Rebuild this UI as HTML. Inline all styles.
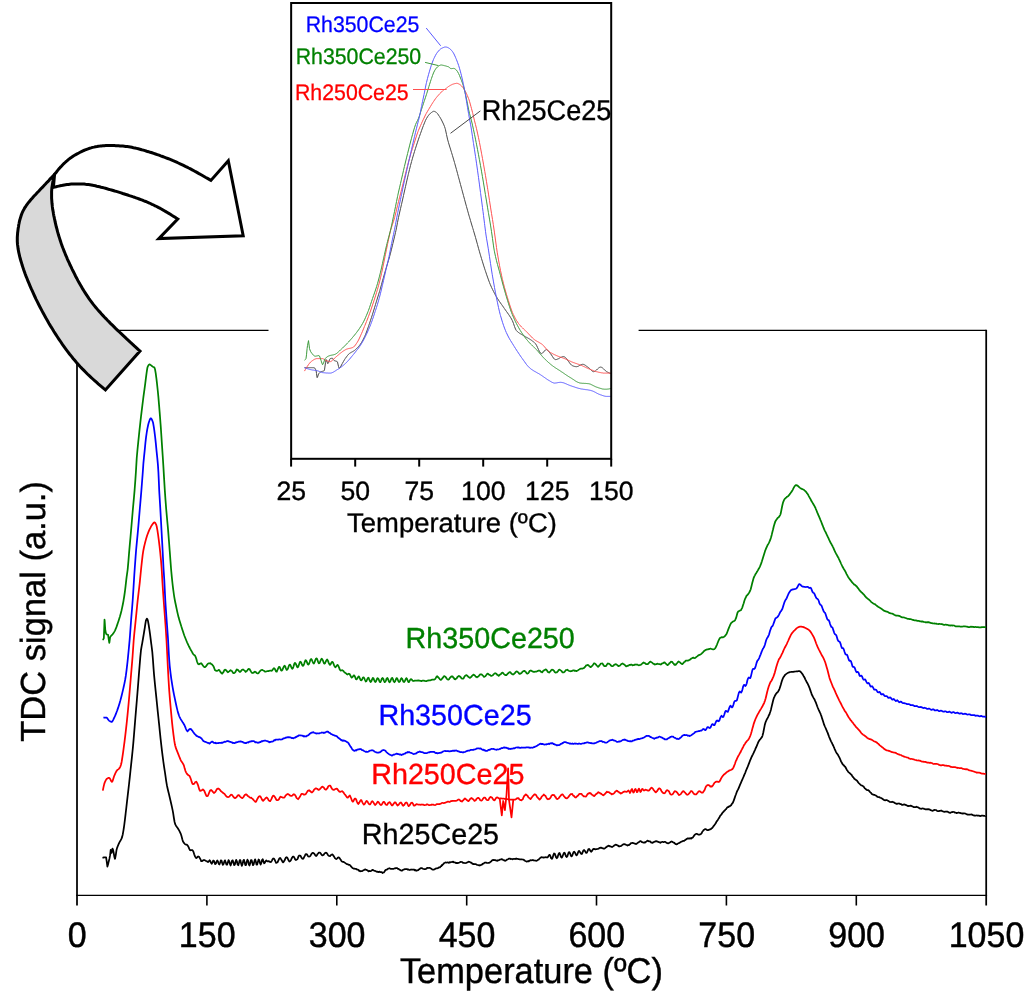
<!DOCTYPE html>
<html lang="en"><head><meta charset="utf-8"><title>TPR profiles</title>
<style>html,body{margin:0;padding:0;background:#fff}body{width:1024px;height:996px;overflow:hidden}svg{display:block;text-rendering:geometricPrecision}text{font-family:"Liberation Sans", Arial, Helvetica, sans-serif;}</style></head><body>
<svg width="1024" height="996" viewBox="0 0 1024 996">
<rect width="1024" height="996" fill="#fff"/>
<g fill="none" stroke="#000" stroke-linecap="butt">
<path d="M77.0,329.72 V905.5 M986.2,329.72 V905.5" stroke-width="1.75"/>
<path d="M76.12,895.4 H987.08" stroke-width="1.35"/>
<path d="M77.0,330.4 H268.5 M638.6,330.4 H986.2" stroke-width="1.35"/>
<path d="M206.9,895.4 V905.5" stroke-width="1.6"/>
<path d="M336.8,895.4 V905.5" stroke-width="1.6"/>
<path d="M466.7,895.4 V905.5" stroke-width="1.6"/>
<path d="M596.5,895.4 V905.5" stroke-width="1.6"/>
<path d="M726.4,895.4 V905.5" stroke-width="1.6"/>
<path d="M856.3,895.4 V905.5" stroke-width="1.6"/>
</g>
<path d="M102.5,857.8 103.2,857.6 103.9,857.4 104.6,857.3 105.3,857.3 106.0,857.3 106.1,857.3 106.7,861.4 107.4,866.6 107.4,866.6 108.1,864.3 108.5,862.4 108.8,861.2 109.5,858.4 110.1,855.2 110.2,854.4 110.7,849.8 110.9,850.2 111.6,852.8 111.6,852.8 112.3,849.1 112.5,848.6 113.0,849.7 113.7,852.8 113.7,852.8 114.4,857.0 114.9,858.8 115.1,858.5 115.8,854.8 116.5,850.1 116.7,849.2 117.2,847.6 117.9,845.8 118.6,844.2 119.1,843.1 119.3,842.7 120.0,841.4 120.7,840.2 121.4,838.9 122.1,837.1 122.1,837.1 122.8,834.2 123.5,830.1 123.9,827.5 124.2,825.4 124.9,819.8 125.6,813.8 125.7,813.0 126.3,807.9 127.0,801.7 127.5,797.3 127.7,795.6 128.4,789.6 129.1,783.5 129.3,781.7 129.8,777.1 130.5,770.5 131.1,764.8 131.2,763.9 131.9,757.3 132.6,750.5 133.0,746.4 133.3,743.1 134.0,734.8 134.7,726.1 135.4,717.5 135.4,717.5 136.1,709.1 136.8,700.8 137.5,692.3 137.8,688.6 138.2,683.5 138.9,674.4 139.6,665.7 139.6,665.7 140.3,657.1 141.0,650.0 141.0,650.0 141.7,645.9 142.2,643.3 142.4,642.1 143.1,638.0 143.8,633.8 144.5,629.5 144.7,628.3 145.2,624.9 145.9,620.7 146.0,620.4 146.6,619.0 146.9,618.7 147.3,619.1 147.8,620.4 148.0,621.1 148.7,625.0 149.2,628.3 149.4,629.6 150.1,634.7 150.8,640.2 151.2,643.3 151.5,645.5 152.2,651.1 152.3,652.0 152.9,659.2 153.6,669.0 154.0,674.1 154.3,677.4 155.0,684.7 155.7,691.4 156.4,698.2 156.4,698.2 157.1,705.0 157.8,711.8 158.5,718.5 158.9,722.3 159.2,725.2 159.9,732.1 160.6,738.8 161.3,745.2 161.3,745.2 162.0,751.1 162.7,756.7 163.4,762.0 163.4,762.0 164.1,766.8 164.8,771.3 164.9,772.0 165.5,776.2 166.2,781.1 166.7,784.1 166.9,785.2 167.6,788.5 168.3,791.5 169.0,794.3 169.7,797.3 169.7,797.3 170.4,800.3 171.1,803.3 171.8,806.4 172.5,809.6 172.7,810.6 173.2,813.4 173.9,818.0 174.6,822.0 175.1,823.9 175.3,824.4 176.0,825.7 176.7,826.7 177.4,827.6 178.1,828.7 178.1,828.7 178.8,829.9 179.5,831.2 180.2,832.6 180.9,834.2 181.1,834.7 181.6,836.4 182.3,839.3 183.0,841.5 183.0,841.5 183.7,842.5 184.2,843.2 184.4,843.5 185.1,844.2 185.8,844.5 186.5,844.5 187.2,845.0 187.9,845.9 188.6,847.2 189.3,848.9 190.0,850.2 190.2,850.3 190.7,850.2 191.4,850.0 192.1,850.0 192.8,850.6 193.5,851.9 194.2,854.2 194.9,856.1 195.0,856.4 195.6,857.4 196.3,858.1 197.0,857.6 197.7,856.7 198.4,856.5 199.1,856.8 199.8,858.1 200.5,859.4 201.0,860.5 201.2,861.1 201.9,861.2 202.6,860.8 203.3,860.1 204.0,860.0 204.7,860.1 205.4,860.7 206.1,861.0 206.8,861.1 207.0,861.3 207.5,861.8 208.2,862.0 208.9,861.2 209.6,860.3 210.3,861.1 211.0,862.8 211.7,863.8 212.4,862.6 213.1,860.7 213.1,860.7 213.8,860.6 214.5,862.4 215.2,864.2 215.9,863.6 216.6,861.5 217.3,860.4 218.0,861.4 218.7,863.8 219.4,864.5 220.1,862.7 220.8,860.4 221.5,860.6 222.2,863.1 222.9,864.8 223.6,864.0 224.3,861.4 225.0,860.3 225.7,862.2 226.4,864.6 227.1,864.7 227.8,862.4 228.5,860.2 229.2,861.0 229.9,863.7 230.0,864.2 230.6,865.5 231.3,863.5 232.0,860.7 232.7,860.3 233.4,862.6 234.1,865.1 234.8,864.8 235.5,861.7 236.2,859.8 236.9,861.3 237.6,864.6 238.3,865.2 239.0,862.8 239.7,860.1 240.4,860.2 241.1,863.4 241.8,865.8 242.5,864.3 243.2,860.8 243.9,859.8 244.6,862.2 245.3,865.1 246.0,865.1 246.7,861.8 247.4,859.7 248.1,860.7 248.8,864.3 249.5,865.5 250.0,864.0 250.2,863.2 250.9,860.1 251.6,860.1 252.3,862.7 253.0,865.2 253.7,864.2 254.4,861.1 255.1,859.4 255.8,861.4 256.5,864.5 257.2,864.5 257.9,861.7 258.6,859.5 259.3,860.2 260.0,863.2 260.7,864.5 261.4,862.7 262.1,859.8 262.8,859.2 263.5,861.7 264.2,863.3 264.9,862.6 265.6,861.1 266.3,860.5 267.0,861.1 267.7,861.3 268.4,861.1 269.1,861.3 269.8,861.7 270.0,862.0 270.5,862.0 271.2,861.8 271.9,860.6 272.6,859.1 273.3,858.5 274.0,858.6 274.7,859.8 275.4,861.4 276.1,862.8 276.8,862.6 277.5,862.3 278.2,860.8 278.9,859.3 279.6,858.1 280.3,858.0 281.0,859.1 281.7,860.2 282.4,861.6 283.1,862.4 283.8,861.6 284.5,860.6 285.2,858.9 285.7,857.9 285.9,857.5 286.6,857.2 287.3,857.7 288.0,859.1 288.7,860.5 289.4,861.5 290.1,861.2 290.8,860.5 291.5,858.7 292.2,857.5 292.9,856.6 293.6,856.7 294.3,857.5 295.0,859.1 295.7,860.0 296.4,859.9 297.1,859.4 297.8,858.4 298.5,856.4 299.2,855.5 299.9,855.6 300.6,855.8 301.3,857.3 301.3,857.2 302.0,858.4 302.7,858.8 303.4,858.6 304.1,857.2 304.8,855.9 305.5,854.4 306.2,854.1 306.9,854.3 307.6,855.5 308.3,856.5 309.0,856.6 309.7,856.5 310.4,855.8 311.1,854.6 311.8,853.6 312.5,852.8 313.2,852.8 313.9,853.4 314.6,854.2 315.3,855.3 316.0,856.0 316.7,855.5 317.0,855.0 317.4,854.2 318.1,853.6 318.8,852.5 319.5,852.5 320.2,852.8 320.9,853.8 321.6,854.8 322.3,855.4 323.0,855.1 323.7,854.8 324.4,853.6 324.8,853.3 325.1,853.0 325.8,852.7 326.5,852.8 327.2,853.7 327.9,855.0 328.6,855.7 329.3,856.0 330.0,856.2 330.7,855.1 331.4,855.0 332.1,854.3 332.8,854.7 333.5,855.9 334.2,856.8 334.9,858.1 335.6,858.7 336.3,859.1 337.0,858.6 337.7,857.9 337.9,857.5 338.4,857.4 339.1,857.6 339.8,858.3 340.5,859.6 341.2,860.6 341.9,861.5 342.6,861.8 343.3,861.9 344.0,862.1 344.7,862.6 345.4,863.1 346.1,863.6 346.8,864.1 347.5,864.2 348.2,864.5 348.3,864.6 348.9,864.8 349.6,864.9 350.3,865.4 351.0,866.4 351.7,867.2 352.4,867.9 353.1,868.3 353.8,868.7 354.5,868.6 355.2,868.8 355.9,868.8 356.6,869.2 357.3,869.7 358.0,869.7 358.7,870.1 358.7,870.6 359.4,870.8 360.1,871.3 360.8,871.2 361.5,871.2 362.2,871.1 362.9,870.6 363.6,870.2 364.3,869.9 365.0,869.3 365.7,869.6 366.4,869.8 367.1,870.2 367.8,870.6 368.5,871.3 369.2,871.2 369.2,870.9 369.9,871.2 370.6,871.1 371.3,870.8 372.0,870.3 372.7,869.8 373.4,870.3 374.1,870.6 374.8,870.8 375.5,871.0 376.2,871.4 376.9,871.9 377.6,871.7 378.3,872.1 379.0,871.9 379.7,871.7 380.4,872.2 381.1,872.1 381.8,872.2 382.2,872.5 382.5,873.0 383.2,872.5 383.9,872.3 384.6,871.5 385.3,870.2 386.0,869.8 386.2,869.9 386.7,869.5 387.4,869.3 388.1,868.6 388.8,868.5 389.5,868.2 390.2,868.6 390.9,868.8 391.6,868.8 392.3,868.8 393.0,868.8 393.7,868.9 394.4,868.4 395.1,868.4 395.8,868.1 396.5,868.0 397.2,868.2 397.9,868.8 398.6,868.9 399.3,869.5 400.0,869.9 400.5,870.0 400.7,870.3 401.4,870.7 402.1,870.6 402.8,870.0 403.5,869.6 404.2,869.5 404.9,869.1 405.6,869.1 406.3,869.2 407.0,869.0 407.7,869.7 408.4,869.4 409.1,869.8 409.8,870.0 410.5,869.7 411.2,869.5 411.9,869.6 412.6,869.7 413.3,869.7 414.0,869.5 414.7,870.3 415.4,870.0 416.1,870.6 416.2,870.8 416.8,870.4 417.5,870.4 418.2,870.2 418.9,869.4 419.6,869.0 420.3,868.4 421.0,868.2 421.7,868.2 422.4,868.4 423.1,868.9 423.8,869.0 424.5,869.2 425.2,869.1 425.9,869.0 426.6,868.3 426.6,868.5 427.3,867.9 428.0,867.9 428.7,868.0 429.4,867.8 430.1,868.0 430.8,868.4 431.5,868.8 432.2,869.5 432.9,869.7 433.6,869.6 434.3,869.5 435.0,869.1 435.7,868.5 436.4,868.3 437.0,868.3 437.1,868.3 437.8,868.2 438.5,867.8 439.2,867.3 439.9,867.4 440.6,866.4 441.3,866.2 442.0,865.0 442.3,865.2 442.7,864.5 443.4,864.1 444.1,863.0 444.8,862.8 445.5,862.4 446.2,862.5 446.9,862.5 447.6,862.4 448.3,862.6 449.0,862.8 449.7,862.2 450.4,862.3 451.1,862.1 451.8,862.0 452.5,861.7 452.7,862.0 453.2,861.7 453.9,862.3 454.6,862.4 455.3,862.5 456.0,863.1 456.7,862.8 457.4,863.2 458.1,862.9 458.8,862.8 459.5,862.5 460.2,862.1 460.9,861.8 461.6,862.0 462.3,862.1 463.0,862.8 463.7,862.8 464.4,863.0 465.1,863.1 465.8,863.0 466.5,862.9 467.2,862.4 467.9,862.1 468.6,861.7 469.3,861.8 470.0,862.0 470.7,862.7 471.4,862.7 472.1,863.5 472.8,864.0 473.5,864.1 473.6,863.9 474.2,864.1 474.9,864.2 475.6,864.2 476.3,864.3 477.0,864.9 477.7,865.0 478.4,865.2 479.0,865.3 479.1,865.1 479.8,865.5 480.5,865.2 481.2,864.8 481.9,864.7 482.6,863.9 483.3,863.7 484.0,863.2 484.7,862.6 485.4,862.5 486.1,862.7 486.8,862.9 487.5,863.0 488.2,862.9 488.9,862.8 489.6,862.7 490.3,862.0 491.0,861.5 491.7,860.9 491.9,860.5 492.4,860.0 493.1,860.1 493.8,859.9 494.5,860.1 495.2,860.1 495.9,860.4 496.6,860.7 497.3,860.8 498.0,860.2 498.7,860.3 499.4,860.0 500.1,859.5 500.8,859.4 501.5,859.2 502.2,859.3 502.9,859.8 503.6,860.0 504.3,860.5 504.9,860.8 505.0,860.5 505.7,860.7 506.4,860.1 507.1,859.5 507.8,859.4 508.5,858.9 509.2,858.6 509.9,858.6 510.6,859.0 511.3,859.0 512.0,858.9 512.7,859.4 513.4,858.9 514.1,859.0 514.8,858.8 515.5,859.0 516.2,858.5 516.9,858.9 517.6,858.9 518.0,858.9 518.3,859.1 519.0,859.2 519.7,859.3 520.4,859.3 521.1,859.3 521.8,859.3 522.5,859.5 523.2,859.6 523.9,859.8 524.6,860.6 525.3,861.0 526.0,861.3 526.7,861.6 527.4,861.5 528.1,861.1 528.8,861.4 529.5,860.7 530.0,860.4 530.2,860.2 530.9,860.3 531.6,860.3 532.3,860.0 533.0,860.3 533.7,860.2 534.4,860.5 535.1,860.6 535.8,860.7 536.5,860.8 537.2,860.4 537.9,859.8 538.6,859.7 539.3,858.8 540.0,858.2 540.7,857.6 541.4,857.2 542.1,857.4 542.8,857.4 543.5,857.6 544.2,857.4 544.9,857.5 545.6,857.2 546.1,857.1 546.3,857.2 547.0,857.5 547.7,857.3 548.4,856.2 549.1,855.1 549.8,854.8 550.5,856.3 551.2,858.4 551.9,858.9 552.6,857.8 553.3,855.2 554.0,853.5 554.7,853.7 555.4,855.4 556.1,857.4 556.8,858.2 557.5,857.4 558.2,855.1 558.9,853.3 559.6,853.0 560.3,854.9 561.0,856.9 561.7,857.6 562.4,856.7 563.1,854.8 563.8,853.1 564.5,852.7 565.2,854.0 565.9,856.2 566.6,857.0 567.3,856.4 568.0,854.3 568.7,852.4 569.4,852.2 570.1,853.5 570.8,855.4 571.5,856.4 572.2,855.6 572.2,855.7 572.9,853.7 573.6,852.1 574.3,851.7 575.0,852.7 575.7,854.2 576.4,855.4 577.1,854.8 577.8,853.2 578.5,851.2 579.2,850.9 579.9,851.9 580.6,853.2 581.3,854.0 582.0,853.8 582.7,852.1 583.4,850.4 584.1,850.0 584.8,850.8 585.5,851.9 586.2,852.9 586.9,852.6 587.6,851.2 588.3,849.3 589.0,848.9 589.7,849.7 590.4,850.9 591.1,851.8 591.8,851.2 592.5,850.0 593.2,849.1 593.9,848.8 594.6,849.2 595.3,849.3 596.0,849.1 596.7,849.2 597.4,849.0 598.1,848.8 598.3,848.5 598.8,848.5 599.5,847.9 600.2,847.9 600.9,847.6 601.6,847.9 602.3,848.2 603.0,848.4 603.7,848.7 604.4,848.7 605.1,848.1 605.8,847.4 606.5,847.1 607.2,846.4 607.9,846.2 608.6,845.7 609.3,845.8 610.0,846.5 610.7,846.3 611.4,846.9 612.1,847.0 612.8,846.6 613.5,846.1 614.2,845.5 614.9,845.1 615.6,844.6 616.3,844.8 617.0,845.1 617.7,845.3 618.4,846.1 619.1,846.5 619.8,846.2 620.5,846.2 621.2,846.0 621.9,845.3 622.6,844.7 623.3,844.5 624.0,844.1 624.4,844.2 624.7,844.3 625.4,844.3 626.1,844.9 626.8,845.0 627.5,845.5 628.2,845.2 628.9,845.1 629.6,844.3 630.3,844.1 631.0,843.0 631.7,843.0 632.4,842.9 633.1,843.1 633.8,843.2 634.5,843.6 635.2,843.7 635.9,844.1 636.6,843.8 637.3,843.2 638.0,842.6 638.7,842.3 639.4,841.6 640.1,841.1 640.8,841.2 641.5,841.9 642.2,842.1 642.9,842.5 643.6,842.7 644.3,842.4 645.0,842.6 645.7,841.9 646.4,841.5 647.1,841.0 647.8,840.6 648.5,841.1 649.2,841.4 649.9,841.3 650.5,841.7 650.6,841.9 651.3,842.7 652.0,842.6 652.7,842.8 653.4,842.2 654.1,841.9 654.8,841.7 655.5,841.4 656.2,841.1 656.9,841.3 657.6,841.7 658.3,841.9 659.0,842.2 659.7,842.4 660.4,842.8 661.1,842.3 661.8,842.0 662.5,841.8 663.2,842.0 663.9,842.0 664.6,841.8 665.3,841.9 666.0,842.4 666.7,843.0 667.4,843.1 668.1,843.3 668.8,843.1 669.5,842.7 670.2,842.3 670.9,841.8 671.6,841.4 672.3,841.8 673.0,842.3 673.7,842.6 674.4,842.9 675.1,843.8 675.8,844.2 676.5,844.3 676.6,844.2 677.2,844.2 677.9,843.5 678.6,843.2 679.3,843.0 680.0,842.5 680.7,842.1 681.4,841.7 682.1,841.5 682.8,841.1 683.5,840.8 684.2,840.8 684.9,840.2 685.6,839.7 686.3,839.2 687.0,838.7 687.7,838.4 688.4,838.6 689.1,838.3 689.7,838.4 689.8,838.7 690.5,838.2 691.2,838.6 691.9,837.9 692.6,837.6 693.3,836.8 694.0,835.9 694.7,834.7 695.4,834.4 696.1,833.9 696.8,833.8 697.5,834.2 698.2,834.6 698.9,834.7 699.6,834.7 700.0,834.5 700.3,834.3 701.0,833.9 701.7,833.1 702.4,831.5 703.1,830.8 703.8,829.9 704.5,829.5 705.2,829.1 705.4,829.1 705.9,829.2 706.6,829.8 707.3,830.1 708.0,830.2 708.7,829.9 709.4,829.7 710.1,829.3 710.8,829.1 711.5,828.3 711.7,828.4 712.2,828.0 712.9,827.1 713.6,826.1 714.3,825.2 715.0,824.3 715.7,823.3 716.4,821.8 717.1,820.9 717.8,819.9 718.1,819.3 718.5,818.8 719.2,817.8 719.9,816.3 720.6,815.3 721.3,814.7 722.0,813.5 722.7,812.5 723.4,811.9 724.1,811.0 724.4,810.5 724.8,810.5 725.5,809.4 726.2,809.0 726.9,807.9 727.6,807.2 728.3,807.2 729.0,806.4 729.7,806.4 730.4,805.7 731.1,805.2 731.8,804.0 732.5,803.1 732.5,803.3 733.2,802.0 733.9,800.1 734.6,798.1 735.3,796.0 736.0,794.2 736.7,792.2 737.0,791.5 737.4,790.7 738.1,789.4 738.8,787.8 739.5,786.1 740.2,784.4 740.9,782.8 741.6,781.2 741.6,781.2 742.3,779.6 743.0,778.0 743.7,776.4 744.4,774.6 745.1,773.1 745.8,771.2 746.5,769.5 747.0,768.3 747.2,768.0 747.9,766.2 748.6,764.4 749.3,762.6 750.0,760.7 750.7,759.1 751.4,757.4 752.1,756.0 752.4,755.3 752.8,754.6 753.5,753.2 754.2,751.6 754.9,750.1 755.6,748.4 756.3,747.0 757.0,745.3 757.7,743.5 757.8,743.4 758.4,741.9 759.1,740.8 759.8,739.7 760.5,739.0 761.2,738.0 761.9,737.1 762.4,736.0 762.6,735.3 763.3,732.5 764.0,728.8 764.7,725.3 765.1,723.7 765.4,722.7 766.1,721.0 766.8,719.4 767.5,718.2 768.2,716.8 768.9,715.2 769.6,714.0 769.6,713.7 770.3,711.7 771.0,709.4 771.7,706.4 772.4,703.5 773.1,700.6 773.8,698.2 774.1,697.4 774.5,696.7 775.2,695.2 775.9,694.0 776.6,693.2 777.3,692.4 778.0,691.9 778.6,690.7 778.7,690.5 779.4,689.1 780.1,686.9 780.8,684.7 781.5,682.3 782.2,680.1 782.9,678.3 783.1,677.9 783.6,677.0 784.3,676.1 785.0,675.0 785.7,674.4 786.4,673.9 787.1,673.4 787.8,672.9 788.5,672.5 788.6,672.5 789.2,672.3 789.9,672.1 790.6,672.0 791.3,671.9 792.0,671.9 792.7,671.8 793.4,671.8 794.0,671.7 794.1,671.7 794.8,671.6 795.5,671.5 796.2,671.4 796.9,671.4 797.6,671.3 798.3,671.2 799.0,671.2 799.4,671.2 799.7,671.2 800.4,671.6 801.1,672.3 801.8,673.2 802.5,674.1 803.2,675.3 803.9,676.6 803.9,676.5 804.6,677.7 805.3,679.3 806.0,680.6 806.7,682.0 807.4,683.2 808.1,684.7 808.8,686.2 809.5,687.8 810.2,689.9 810.9,691.9 811.4,693.2 811.6,694.1 812.3,695.5 813.0,696.9 813.7,698.2 814.4,699.2 815.1,700.9 815.8,702.4 816.5,704.2 817.2,706.2 817.9,708.0 818.6,709.6 819.3,711.1 820.0,712.7 820.5,713.6 820.7,714.3 821.4,716.1 822.1,718.4 822.8,720.5 823.5,722.7 824.2,724.9 824.9,726.5 825.6,728.0 826.3,729.7 826.5,730.1 827.0,731.4 827.7,732.9 828.4,734.9 829.1,736.8 829.8,738.4 830.5,740.2 831.2,741.6 831.9,742.9 832.6,744.5 833.3,745.7 834.0,747.5 834.0,747.3 834.7,749.1 835.4,750.6 836.1,752.1 836.8,753.4 837.5,754.1 838.2,755.3 838.9,756.6 839.6,757.9 840.3,759.5 841.0,761.4 841.7,762.5 842.3,763.7 842.4,763.9 843.1,764.7 843.8,765.2 844.5,766.3 845.2,766.8 845.9,768.0 846.6,769.4 847.3,770.4 848.0,771.5 848.7,772.4 849.4,772.9 850.1,773.5 850.8,774.2 851.5,774.7 852.2,776.0 852.9,776.9 853.0,777.1 853.6,777.6 854.3,778.8 855.0,779.2 855.7,779.7 856.4,780.3 857.1,780.8 857.8,781.9 858.5,782.8 859.2,783.5 859.9,784.2 860.6,784.8 861.3,785.4 862.0,785.5 862.7,785.9 863.4,786.4 864.1,787.3 864.8,788.4 865.5,788.9 865.9,789.1 866.2,789.6 866.9,790.0 867.6,790.0 868.3,790.2 869.0,790.7 869.7,791.6 870.4,792.3 871.1,792.9 871.8,793.9 872.5,794.3 873.2,794.7 873.9,794.8 874.6,794.9 875.3,795.3 876.0,795.6 876.7,796.2 876.7,796.0 877.4,796.8 878.1,797.0 878.8,797.2 879.5,797.2 880.2,797.7 880.9,798.0 881.6,798.2 882.3,798.8 883.0,799.3 883.7,799.8 884.4,800.2 885.1,800.3 885.8,800.1 886.5,800.0 887.2,800.3 887.9,800.7 888.6,801.1 889.3,801.6 890.0,801.9 890.7,802.0 891.4,802.0 892.1,801.7 892.8,802.1 893.5,802.2 893.9,802.4 894.2,802.5 894.9,803.1 895.6,803.3 896.3,803.8 897.0,803.9 897.7,803.5 898.4,803.5 899.1,803.4 899.8,803.9 900.5,804.1 901.2,804.2 901.9,804.8 902.6,804.9 903.3,804.5 904.0,804.7 904.7,804.4 905.4,804.9 906.1,805.1 906.8,805.4 907.5,805.9 908.2,806.1 908.9,805.9 909.6,806.0 910.3,805.7 911.0,805.7 911.7,806.1 912.4,806.4 913.1,806.7 913.2,806.8 913.8,807.1 914.5,807.1 915.2,807.1 915.9,807.1 916.6,806.7 917.3,807.2 918.0,807.3 918.7,807.7 919.4,808.3 920.1,808.6 920.8,808.7 921.5,808.8 922.2,808.4 922.9,808.5 923.6,808.6 924.3,808.9 925.0,809.1 925.7,809.3 926.4,809.3 927.1,809.1 927.8,809.3 928.5,809.2 929.2,809.3 929.9,809.6 930.4,810.1 930.6,810.2 931.3,810.3 932.0,810.6 932.7,810.8 933.4,810.4 934.1,810.1 934.8,809.9 935.5,810.0 936.2,810.2 936.9,810.7 937.6,811.1 938.3,811.2 939.0,811.1 939.7,810.8 940.4,810.8 941.1,810.5 941.8,811.0 942.5,811.1 943.2,811.6 943.9,811.7 944.6,811.8 945.3,811.7 946.0,811.7 946.7,811.5 947.4,811.6 948.1,812.0 948.8,812.5 949.5,812.6 950.2,812.9 950.9,812.5 951.6,812.2 951.9,812.1 952.3,812.2 953.0,811.8 953.7,812.0 954.4,812.2 955.1,812.7 955.8,812.6 956.5,813.1 957.2,812.8 957.9,812.8 958.6,812.5 959.3,812.8 960.0,812.9 960.7,813.1 961.4,813.3 962.1,813.4 962.8,813.7 963.5,813.4 964.2,813.3 964.9,813.5 965.6,813.7 966.3,814.1 967.0,814.3 967.7,814.6 968.4,814.7 969.1,814.6 969.8,814.5 970.5,814.5 971.2,814.4 971.9,814.6 972.6,814.9 973.3,815.3 973.3,815.3 974.0,815.4 974.7,815.7 975.4,815.7 976.1,815.5 976.8,815.4 977.5,815.7 978.2,815.5 978.9,815.6 979.6,816.0 980.3,816.1 981.0,815.8 981.7,815.6 982.4,815.7 983.1,815.7 983.8,815.8 984.5,815.8 985.2,816.0 985.2,815.9" fill="none" stroke="#000000" stroke-width="1.75" stroke-linejoin="round"/>
<path d="M102.8,790.7 103.5,787.1 104.2,784.1 104.6,782.9 104.9,782.2 105.6,780.6 106.3,779.4 107.0,778.7 107.0,778.7 107.7,778.3 108.4,777.9 109.1,777.8 109.2,777.8 109.8,778.3 110.5,779.7 111.2,781.2 111.9,781.9 111.9,781.9 112.6,781.0 113.3,778.8 114.0,776.5 114.3,775.7 114.7,774.8 115.4,773.2 116.1,771.8 116.7,770.8 116.8,770.7 117.5,769.9 118.2,769.4 118.9,768.8 119.6,767.9 119.7,767.8 120.3,766.6 121.0,764.7 121.3,763.6 121.7,761.5 122.1,759.0 122.4,757.1 123.1,752.3 123.8,747.1 123.9,746.4 124.5,741.8 125.2,736.1 125.7,731.9 125.9,730.2 126.6,723.8 127.3,717.1 127.5,715.1 128.0,710.0 128.7,702.5 129.3,695.8 129.4,694.7 130.1,686.3 130.8,677.7 131.1,674.1 131.5,669.4 132.2,661.1 132.6,656.0 132.9,651.8 133.6,641.5 133.7,640.3 134.3,633.7 135.0,626.9 135.7,620.2 135.7,620.2 136.4,613.1 137.1,606.0 137.7,600.2 137.8,599.3 138.5,593.3 139.2,587.5 139.7,583.1 139.9,581.2 140.6,574.0 141.3,567.0 141.3,567.0 142.0,560.6 142.7,554.7 143.2,551.3 143.4,550.2 144.1,546.8 144.8,543.9 145.2,542.3 145.5,541.1 146.2,538.5 146.9,536.2 147.2,535.3 147.6,534.2 148.3,532.4 149.0,530.7 149.7,529.2 149.7,529.2 150.4,527.8 151.1,526.4 151.8,525.3 152.2,524.7 152.5,524.3 153.2,523.4 153.9,522.6 154.5,522.4 154.6,522.4 155.3,523.0 156.0,524.3 156.2,524.7 156.7,526.5 157.4,530.2 157.4,530.2 158.1,534.8 158.7,539.3 158.8,540.1 159.5,545.8 160.0,550.3 160.2,552.2 160.9,559.3 161.0,560.4 161.6,568.0 161.8,571.0 162.3,580.1 162.3,580.1 163.0,590.9 163.7,600.8 163.8,602.2 164.4,610.2 165.1,619.4 165.3,622.2 165.8,629.3 166.5,640.3 166.5,640.3 167.2,654.0 167.2,654.0 167.9,668.1 167.9,668.1 168.6,680.7 169.1,688.6 169.3,691.4 170.0,700.1 170.7,708.0 170.9,710.2 171.4,715.6 172.1,722.8 172.7,728.3 172.8,729.1 173.5,734.9 174.2,740.2 174.9,744.3 175.1,745.2 175.6,747.1 176.3,749.2 177.0,750.9 177.7,752.6 178.1,753.6 178.4,754.4 179.1,756.2 179.8,757.9 180.5,759.6 181.1,760.8 181.2,761.0 181.9,762.1 182.6,763.1 183.3,764.2 183.6,764.8 184.0,765.9 184.7,768.6 185.4,770.8 185.4,770.8 186.1,772.3 186.8,773.6 187.5,774.5 188.2,775.0 188.4,775.3 188.9,775.5 189.6,776.0 190.3,777.7 191.0,779.5 191.7,781.9 192.4,783.8 192.6,783.8 193.1,784.2 193.8,783.9 194.5,783.5 195.2,782.0 195.9,781.9 196.2,781.7 196.6,782.1 197.3,783.4 198.0,785.1 198.7,787.4 199.4,789.8 199.8,790.2 200.1,790.9 200.8,790.7 201.5,790.4 202.2,790.0 202.9,789.4 203.4,789.8 203.6,790.0 204.3,790.9 205.0,792.6 205.7,794.3 206.4,795.9 207.1,796.2 207.7,796.0 207.8,795.9 208.5,794.4 209.2,792.5 209.9,790.9 210.6,790.1 211.3,790.0 211.9,790.8 212.0,790.7 212.7,791.6 213.4,792.4 214.1,793.0 214.8,792.2 215.0,792.3 215.5,791.7 216.2,790.3 216.9,789.0 217.6,788.7 218.3,788.5 218.6,788.9 219.0,788.8 219.7,789.5 220.4,790.5 221.1,791.3 221.8,791.8 222.5,792.4 223.2,793.1 223.9,793.5 224.6,793.9 225.3,795.0 226.0,795.9 226.7,796.6 227.4,796.9 228.1,797.1 228.8,797.0 229.5,796.3 230.2,795.5 230.6,795.1 230.9,794.7 231.6,794.9 232.3,795.1 233.0,796.2 233.7,797.2 234.4,797.9 235.1,798.1 235.8,797.8 236.5,797.2 237.2,796.1 237.9,795.4 238.6,795.1 239.3,795.5 240.0,796.5 240.7,797.2 241.4,797.6 242.1,798.2 242.8,797.7 243.5,797.0 244.2,795.8 244.9,794.9 245.6,794.7 245.7,794.3 246.3,794.4 247.0,795.0 247.7,795.9 248.4,796.2 249.1,796.9 249.8,797.5 250.5,797.8 251.2,797.7 251.9,798.4 252.6,798.9 253.3,799.7 254.0,800.5 254.7,801.2 255.4,801.9 256.1,801.6 256.8,800.1 257.5,798.7 258.2,797.5 258.9,796.5 259.6,796.2 260.3,796.4 260.7,797.0 261.0,797.5 261.7,799.0 262.4,800.2 263.1,800.9 263.8,800.1 264.5,799.3 265.2,798.7 265.9,797.9 266.6,797.4 267.3,797.9 268.0,798.9 268.7,800.3 269.4,800.9 270.0,801.0 270.1,801.2 270.8,800.1 271.5,798.9 272.2,797.1 272.9,795.8 273.6,795.7 274.3,796.2 275.0,797.2 275.7,798.5 276.4,799.9 277.1,800.2 277.8,800.1 278.5,799.8 279.2,798.9 279.9,797.4 280.6,796.7 281.3,797.1 282.0,797.1 282.7,797.6 283.1,797.7 283.4,797.6 284.1,797.7 284.8,797.0 285.5,795.7 286.2,795.0 286.9,794.4 287.6,794.0 288.3,794.1 289.0,794.6 289.7,795.4 290.4,795.6 291.1,795.9 291.8,795.8 292.5,795.4 293.2,794.6 293.9,794.2 294.6,794.5 295.3,795.5 296.0,796.5 296.1,797.0 296.7,798.1 297.4,798.6 298.1,799.2 298.8,798.3 299.5,797.3 300.2,796.2 300.9,794.8 301.6,793.9 302.3,793.9 303.0,794.0 303.7,794.6 304.4,794.6 305.1,794.4 305.8,794.0 306.5,792.9 307.2,791.8 307.9,790.6 308.6,790.7 309.2,790.2 309.3,790.8 310.0,790.9 310.7,791.5 311.4,792.3 312.1,792.3 312.8,791.6 313.5,790.8 314.2,789.4 314.9,789.0 315.6,788.4 316.3,788.3 317.0,788.9 317.7,789.1 318.4,789.9 319.1,789.8 319.6,789.2 319.8,789.1 320.5,788.3 321.2,787.6 321.9,786.8 322.6,786.7 323.3,787.3 324.0,787.8 324.7,789.1 325.4,789.5 326.1,789.5 326.8,788.9 327.4,787.8 327.5,788.1 328.2,786.4 328.9,785.8 329.6,785.7 330.3,785.7 331.0,787.0 331.7,788.3 332.4,789.4 333.1,789.6 333.8,789.8 334.5,789.7 335.2,789.0 335.9,788.8 336.6,788.7 337.3,788.9 337.9,789.8 338.0,790.2 338.7,790.9 339.4,791.7 340.1,791.9 340.8,791.5 341.5,791.4 342.2,791.2 342.9,791.8 343.6,792.6 344.3,793.8 345.0,794.7 345.7,795.4 346.4,796.4 347.1,797.4 347.8,797.6 348.3,797.0 348.5,797.1 349.2,796.0 349.9,795.5 350.6,797.0 351.3,798.8 352.0,800.8 352.7,801.7 353.4,801.2 354.1,799.6 354.8,798.5 355.5,798.5 356.2,799.6 356.9,801.6 357.6,803.1 358.3,804.0 359.0,803.2 359.7,801.8 360.4,800.6 361.1,800.0 361.4,800.3 361.8,801.0 362.5,802.6 363.2,803.7 363.9,804.6 364.6,804.1 365.3,802.8 366.0,801.7 366.7,800.9 367.4,801.4 368.1,802.7 368.8,803.8 369.5,804.4 370.2,804.3 370.9,803.1 371.6,801.7 372.3,801.2 373.0,801.8 373.7,802.9 374.4,804.1 375.1,805.0 375.8,804.3 376.5,803.7 377.2,802.4 377.9,801.6 378.6,802.1 379.3,803.3 380.0,804.3 380.7,805.0 381.4,804.8 382.1,804.0 382.8,802.8 383.5,801.8 384.2,801.9 384.9,803.0 385.6,804.3 386.3,804.9 387.0,804.9 387.5,804.6 387.7,803.8 388.4,802.8 389.1,802.4 389.8,802.2 390.5,803.2 391.2,804.5 391.9,805.4 392.6,805.3 393.3,804.1 394.0,803.4 394.7,802.3 395.4,802.3 396.1,803.3 396.8,804.6 397.5,805.6 398.2,805.1 398.9,804.3 399.6,803.4 400.3,802.7 401.0,802.5 401.7,803.3 402.4,804.9 403.1,805.8 403.8,805.3 404.5,804.6 405.2,803.2 405.9,802.6 406.6,802.5 407.3,803.5 408.0,805.1 408.7,806.2 409.4,805.5 410.1,804.6 410.8,803.3 411.5,802.8 412.2,802.6 412.9,803.7 413.6,805.2 413.6,805.4 414.3,805.7 415.0,805.4 415.7,804.7 416.4,804.2 417.1,804.2 417.8,804.5 418.5,804.6 419.2,804.7 419.9,804.7 420.6,804.8 421.3,804.5 422.0,804.6 422.7,804.5 423.4,804.6 424.1,805.2 424.8,805.1 425.5,805.0 426.2,804.8 426.9,804.3 427.6,804.4 428.3,804.8 429.0,805.1 429.7,805.2 430.4,805.0 431.1,804.7 431.8,804.8 431.8,804.6 432.5,804.6 433.2,804.7 433.9,804.9 434.6,805.0 435.3,805.0 436.0,804.7 436.7,804.0 437.4,804.0 438.1,804.1 438.8,804.2 439.5,804.1 440.2,803.8 440.9,803.7 441.6,803.0 442.3,802.9 443.0,803.0 443.7,803.1 444.4,802.9 445.1,802.8 445.8,802.5 446.5,802.0 447.2,801.9 447.9,801.7 448.6,801.7 449.3,802.0 450.0,801.7 450.7,801.2 451.4,801.1 452.1,800.9 452.7,800.9 452.8,801.0 453.5,800.9 454.2,800.9 454.9,800.8 455.6,800.8 456.3,800.8 457.0,800.5 457.7,799.9 458.4,799.5 459.1,799.6 459.8,800.0 460.5,801.1 461.2,801.2 461.9,801.6 462.6,800.7 463.3,800.2 464.0,799.4 464.7,798.5 465.4,798.7 466.1,799.4 466.8,800.0 467.5,800.5 468.2,801.2 468.9,800.7 469.6,799.7 470.3,798.7 471.0,798.3 471.7,798.0 472.4,798.8 473.1,799.2 473.8,800.0 474.5,800.9 475.2,800.5 475.9,800.0 476.6,798.8 477.3,798.2 478.0,797.9 478.7,797.8 478.8,798.0 479.4,798.7 480.1,800.1 480.8,800.5 481.5,800.7 482.2,800.1 482.9,798.9 483.6,798.0 484.3,797.5 485.0,797.5 485.7,798.5 486.4,799.6 487.1,800.1 487.8,800.2 488.5,799.9 489.2,798.4 489.9,797.5 490.6,796.9 491.3,797.2 492.0,797.5 492.7,798.8 493.4,799.8 494.1,800.3 494.8,800.1 495.5,798.8 496.2,797.9 496.9,797.3 497.6,797.6 498.3,798.0 499.0,798.4 499.7,798.5 499.7,798.5 500.4,798.4 501.1,798.4 501.8,798.5 502.5,798.5 503.2,798.6 503.9,798.7 504.6,798.8 505.3,798.9 506.0,799.0 506.7,799.1 507.4,799.2 508.1,799.3 508.8,799.4 509.5,799.5 510.2,799.5 510.9,799.6 511.6,799.6 512.3,799.7 513.0,799.7 513.3,799.7 513.7,799.7 514.4,799.7 515.1,799.6 515.8,799.3 516.5,798.6 517.2,798.2 517.9,798.3 518.6,798.1 519.3,799.4 520.0,799.9 520.7,800.2 521.4,800.3 522.1,799.7 522.8,799.3 523.5,797.3 524.2,796.0 524.9,795.4 525.6,794.4 526.3,794.5 527.0,795.4 527.7,796.0 528.4,797.3 529.1,797.9 529.8,798.4 530.0,798.5 530.5,799.1 531.2,798.2 531.9,797.3 532.6,796.3 533.3,795.5 534.0,794.8 534.7,794.3 535.4,794.5 536.1,795.1 536.8,796.4 537.5,797.4 538.2,798.1 538.9,798.9 539.6,799.6 540.3,798.8 541.0,798.1 541.7,796.7 542.4,796.0 543.1,795.3 543.8,794.5 544.5,795.3 545.2,795.5 545.9,796.5 546.1,797.1 546.6,798.0 547.3,798.9 548.0,799.3 548.7,798.9 549.4,798.9 550.1,798.1 550.8,797.2 551.5,795.7 552.2,795.1 552.9,794.9 553.6,795.1 554.3,795.2 555.0,796.7 555.7,797.1 556.4,798.6 557.1,799.1 557.8,798.9 558.5,798.4 559.2,797.4 559.9,796.4 560.6,795.8 561.3,794.9 562.0,794.4 562.7,794.4 563.4,795.5 564.1,796.3 564.8,797.2 565.5,798.0 566.2,798.0 566.9,798.4 567.6,797.8 568.3,797.2 569.0,796.1 569.7,795.2 570.4,794.5 571.1,794.0 571.8,794.2 572.2,794.0 572.5,794.5 573.2,795.6 573.9,795.9 574.6,796.8 575.3,797.5 576.0,797.4 576.7,796.6 577.4,796.0 578.1,795.5 578.8,794.5 579.5,793.9 580.2,793.8 580.9,793.9 581.6,793.9 582.3,795.1 583.0,795.6 583.7,796.3 584.4,796.3 585.1,796.5 585.8,796.6 586.5,795.9 587.2,794.6 587.9,793.7 588.6,793.6 589.3,792.9 590.0,793.4 590.7,793.1 591.4,794.2 592.1,794.7 592.8,795.1 593.5,795.8 594.2,796.1 594.9,795.4 595.6,794.5 596.3,794.1 597.0,793.5 597.7,792.8 598.3,792.2 598.4,792.6 599.1,792.7 599.8,792.8 600.5,793.7 601.2,793.7 601.9,794.4 602.6,794.9 603.3,795.3 604.0,794.8 604.7,794.1 605.4,793.5 606.1,792.7 606.8,791.6 607.5,792.1 608.2,792.0 608.9,792.0 609.6,792.8 610.3,793.3 611.0,793.5 611.7,794.4 612.4,794.0 613.1,793.9 613.8,793.5 614.5,792.8 615.2,791.8 615.9,791.3 616.6,790.7 617.3,790.8 618.0,791.7 618.7,791.8 619.4,792.7 620.1,792.9 620.8,793.6 621.5,793.0 622.2,792.9 622.9,792.2 623.6,791.9 624.3,791.5 624.4,791.7 625.0,791.5 625.7,791.6 626.4,791.8 627.1,791.7 627.8,791.0 628.5,790.5 629.2,791.5 629.9,793.0 630.6,791.8 631.3,789.9 632.0,789.0 632.7,791.3 633.4,792.6 634.1,791.8 634.8,789.4 635.5,789.0 636.2,790.4 636.9,792.2 637.6,791.8 638.3,789.5 639.0,788.7 639.7,790.2 640.4,792.0 641.1,791.3 641.8,789.3 642.5,788.9 643.2,789.8 643.9,790.5 644.6,790.3 645.3,789.7 646.0,789.8 646.7,790.0 647.4,790.4 648.1,790.6 648.8,790.6 649.5,790.0 650.2,789.2 650.5,788.6 650.9,788.2 651.6,787.6 652.3,788.2 653.0,788.8 653.7,790.2 654.4,790.8 655.1,791.8 655.8,792.4 656.5,791.6 657.2,791.0 657.9,789.8 658.6,788.7 659.3,788.3 660.0,788.7 660.7,789.5 661.4,790.9 662.1,791.9 662.8,792.8 663.5,793.2 664.2,793.3 664.9,792.9 665.6,791.9 666.3,790.8 667.0,790.2 667.7,790.3 668.4,790.9 669.1,791.5 669.8,793.3 670.5,794.3 671.2,794.6 671.9,794.6 672.6,794.2 673.3,793.2 674.0,792.1 674.7,791.2 675.4,791.3 676.1,791.6 676.6,792.0 676.8,792.0 677.5,793.1 678.2,794.0 678.9,795.1 679.6,794.8 680.3,794.5 681.0,793.8 681.7,792.8 682.4,791.8 683.1,791.1 683.8,791.3 684.5,792.1 685.2,792.7 685.9,793.7 686.6,794.4 687.3,794.8 688.0,794.5 688.7,793.9 689.4,793.2 690.1,792.3 690.8,791.2 691.5,791.1 692.2,791.5 692.9,792.5 693.6,793.4 694.3,794.2 695.0,794.4 695.7,794.4 696.4,794.3 697.1,793.3 697.8,792.5 698.5,791.4 699.2,791.3 699.9,791.2 700.0,791.4 700.6,791.8 701.3,792.5 702.0,792.5 702.7,792.6 703.4,791.7 704.1,790.8 704.8,789.5 705.5,787.5 706.2,786.2 706.9,785.6 707.2,785.2 707.6,785.1 708.3,785.0 709.0,785.3 709.7,785.8 710.4,786.7 711.1,786.4 711.8,786.6 712.5,785.9 713.2,784.9 713.6,784.2 713.9,783.7 714.6,782.6 715.3,782.2 716.0,781.7 716.7,781.7 717.4,781.6 718.1,781.8 718.8,782.0 719.0,781.6 719.5,781.5 720.2,780.3 720.9,778.8 721.6,777.6 722.3,776.5 723.0,775.7 723.7,774.8 724.4,774.3 725.1,773.6 725.8,773.0 726.2,772.7 726.5,772.4 727.2,771.8 727.9,771.4 728.6,771.1 729.3,770.4 730.0,770.3 730.7,770.0 731.4,769.7 732.1,769.2 732.5,769.1 732.8,768.4 733.5,767.4 734.2,765.7 734.9,764.0 735.6,761.8 736.1,760.5 736.3,760.4 737.0,758.6 737.7,757.2 738.4,755.8 739.1,754.6 739.8,753.3 740.5,752.3 741.2,750.7 741.9,749.4 742.6,748.0 743.3,746.6 744.0,745.1 744.7,744.2 745.2,743.4 745.4,743.0 746.1,742.1 746.8,741.2 747.5,740.5 748.2,739.8 748.9,738.7 749.6,737.4 749.7,737.2 750.3,735.7 751.0,733.7 751.7,731.3 752.4,728.6 753.1,726.2 753.8,723.6 754.5,721.6 755.2,719.8 755.9,718.0 756.0,717.9 756.6,716.6 757.3,715.2 758.0,713.9 758.7,712.7 759.4,711.4 760.1,710.2 760.8,709.1 761.5,707.9 762.2,706.8 762.9,705.4 763.6,704.0 764.2,702.8 764.3,702.4 765.0,700.6 765.7,698.2 766.4,695.3 767.1,692.3 767.8,689.6 768.5,687.2 768.7,686.5 769.2,685.2 769.9,683.4 770.6,681.9 771.3,681.0 772.0,679.8 772.7,678.2 773.4,676.6 774.1,674.8 774.1,674.6 774.8,672.6 775.5,670.1 776.2,667.3 776.9,664.9 777.6,662.7 778.3,660.9 778.6,660.0 779.0,659.1 779.7,658.2 780.3,657.2 780.4,657.0 781.1,655.6 781.8,654.1 782.5,652.9 783.2,651.2 783.9,649.5 784.6,648.0 785.3,646.8 786.0,645.3 786.3,644.9 786.7,644.1 787.4,642.5 788.1,641.0 788.8,639.4 789.5,637.8 790.2,636.3 790.9,634.9 791.6,633.8 792.3,632.8 792.4,632.7 793.0,632.0 793.7,631.2 794.4,630.5 795.1,629.8 795.8,629.1 796.5,628.4 797.2,627.9 797.9,627.4 798.6,627.0 799.3,626.8 800.0,626.6 800.4,626.6 800.7,626.6 801.4,626.7 802.1,626.8 802.8,626.9 803.5,627.1 804.2,627.4 804.9,627.7 805.6,628.0 806.3,628.4 807.0,628.8 807.7,629.2 808.4,629.6 808.4,629.6 809.1,630.1 809.8,630.9 810.5,631.7 811.2,632.8 811.9,633.9 812.6,635.1 813.3,636.3 813.5,636.7 814.0,637.7 814.7,639.4 815.4,641.2 816.1,643.2 816.8,645.0 817.5,646.7 817.5,646.7 818.2,648.2 818.9,649.6 819.6,650.9 820.3,652.3 820.5,652.7 821.0,653.7 821.7,655.0 822.4,656.2 823.1,657.4 823.8,658.8 824.5,660.5 824.5,660.5 825.2,662.3 825.9,664.5 826.6,666.9 827.3,669.3 827.5,670.0 828.0,672.0 828.7,674.8 829.4,677.4 829.5,678.0 830.1,679.6 830.8,681.5 831.5,683.3 832.2,685.0 832.9,686.9 833.6,688.2 834.3,689.7 835.0,691.2 835.7,692.9 836.4,694.4 837.1,696.0 837.8,697.3 838.5,698.8 838.6,699.0 839.2,700.3 839.9,701.7 840.6,703.0 841.3,704.4 842.0,705.9 842.7,707.2 843.4,708.4 844.1,709.6 844.8,711.0 845.5,711.8 846.2,712.9 846.9,714.1 847.6,715.5 847.6,715.3 848.3,716.7 849.0,717.8 849.7,718.7 850.4,719.8 851.1,720.6 851.8,721.6 852.5,722.3 853.2,723.2 853.9,724.2 854.6,725.1 855.3,726.1 856.0,727.1 856.6,727.5 856.7,727.6 857.4,728.3 858.1,729.2 858.8,729.9 859.5,730.6 860.2,731.5 860.9,732.5 861.6,733.3 862.3,734.0 863.0,734.6 863.7,735.1 864.4,735.5 865.1,736.1 865.8,736.5 865.9,736.8 866.5,737.1 867.2,737.9 867.9,738.4 868.6,738.6 869.3,739.0 870.0,739.0 870.7,739.4 871.4,739.6 872.1,740.0 872.8,740.4 873.5,740.9 874.2,741.3 874.9,741.5 875.6,742.0 876.3,742.2 876.7,742.6 877.0,742.7 877.7,743.4 878.4,743.8 879.1,744.7 879.8,745.4 880.5,745.9 881.2,746.3 881.9,747.0 882.6,747.6 883.3,748.0 884.0,748.8 884.7,749.2 885.3,749.6 885.4,749.8 886.1,750.0 886.8,750.4 887.5,750.5 888.2,750.8 888.9,750.7 889.6,751.1 890.3,751.3 891.0,751.7 891.7,752.1 892.4,752.2 893.1,752.3 893.8,752.5 894.5,752.5 895.2,752.7 895.9,753.0 896.0,753.0 896.6,753.5 897.3,753.8 898.0,754.1 898.7,754.3 899.4,754.7 900.1,754.9 900.8,755.0 901.5,755.3 902.2,755.9 902.9,756.0 903.6,756.4 904.3,756.7 905.0,756.9 905.7,757.0 906.4,757.3 907.1,757.5 907.8,757.6 908.5,758.0 908.9,758.4 909.2,758.5 909.9,758.7 910.6,759.0 911.3,758.9 912.0,759.0 912.7,759.1 913.4,759.3 914.1,759.5 914.8,759.8 915.5,760.0 916.2,760.2 916.9,760.4 917.6,760.5 918.3,760.3 919.0,760.6 919.7,760.6 920.4,760.9 921.1,761.2 921.8,761.6 922.5,761.7 923.2,761.6 923.9,761.8 924.6,761.8 925.3,761.9 926.0,762.1 926.7,762.3 927.4,762.7 928.1,762.7 928.8,762.7 929.5,762.9 930.2,762.8 930.4,762.7 930.9,762.8 931.6,763.0 932.3,763.3 933.0,763.7 933.7,764.0 934.4,763.9 935.1,763.8 935.8,763.9 936.5,763.8 937.2,764.0 937.9,764.1 938.6,764.6 939.3,764.9 940.0,765.1 940.7,765.3 941.4,765.3 942.1,765.1 942.8,765.0 943.5,765.2 944.2,765.4 944.9,765.6 945.6,765.7 946.3,765.7 947.0,765.9 947.7,765.8 948.4,765.9 949.1,766.0 949.8,766.3 950.5,766.8 951.2,766.9 951.9,767.0 951.9,767.1 952.6,767.1 953.3,767.0 954.0,767.1 954.7,767.1 955.4,767.2 956.1,767.5 956.8,767.5 957.5,768.0 958.2,767.9 958.9,768.0 959.6,768.1 960.3,768.2 961.0,768.1 961.7,768.2 962.4,768.6 963.1,768.8 963.8,769.0 964.5,769.1 964.7,769.2 965.2,769.1 965.9,769.3 966.6,769.2 967.3,769.4 968.0,769.6 968.7,770.1 969.4,770.4 970.1,770.5 970.8,770.6 971.5,770.8 972.2,771.0 972.9,771.2 973.6,771.5 974.3,771.7 975.0,772.0 975.7,772.1 976.4,772.6 977.1,772.4 977.6,772.7 977.8,772.6 978.5,772.6 979.2,772.7 979.9,772.8 980.6,773.1 981.3,773.5 982.0,773.7 982.7,773.7 983.4,773.7 984.1,773.8 984.8,773.9 985.5,774.0 985.8,774.1" fill="none" stroke="#ff0000" stroke-width="1.75" stroke-linejoin="round"/>
<path d="M103.4,717.7 104.1,717.6 104.8,717.5 105.5,717.5 106.2,717.5 106.4,717.5 106.9,717.8 107.6,718.7 108.3,719.8 108.9,720.5 109.0,720.6 109.7,721.1 110.4,721.5 111.1,721.8 111.6,721.9 111.8,721.9 112.5,721.1 113.2,719.8 113.9,718.3 114.3,717.5 114.6,716.9 115.3,715.4 116.0,713.7 116.7,711.8 117.3,710.2 117.4,709.9 118.1,707.9 118.8,705.7 119.5,703.4 120.2,701.0 120.3,700.6 120.9,698.4 121.6,695.7 122.3,692.9 123.0,689.9 123.3,688.6 123.7,686.8 124.4,683.6 125.1,680.0 125.7,676.5 125.8,675.9 126.5,670.7 127.2,664.7 127.5,662.0 127.9,658.2 128.6,651.0 128.7,650.0 129.3,643.7 129.6,640.3 130.0,635.2 130.7,625.6 131.1,620.2 131.4,616.4 132.1,608.0 132.7,600.2 132.8,598.8 133.5,587.7 134.2,576.5 134.3,575.0 134.9,566.3 135.6,556.6 136.1,550.3 136.3,548.0 137.0,540.6 137.7,533.4 138.0,530.2 138.4,525.6 139.1,517.4 139.7,510.2 139.8,509.0 140.5,500.9 141.2,492.6 141.4,490.1 141.9,483.8 142.6,474.7 142.8,472.0 143.3,464.7 143.4,463.4 144.0,457.1 144.6,451.4 144.7,450.4 145.4,443.0 145.8,439.3 146.1,436.9 146.8,432.0 147.2,429.7 147.5,428.1 148.2,424.7 148.8,422.5 148.9,422.2 149.6,420.2 150.3,418.7 150.8,418.3 151.0,418.3 151.7,419.2 152.4,420.8 153.0,422.5 153.1,422.8 153.8,426.9 154.2,429.7 154.5,431.9 155.2,437.5 155.4,439.3 155.9,444.1 156.6,451.4 156.6,451.4 157.3,458.1 157.8,463.4 158.0,465.9 158.4,472.0 158.7,478.4 159.2,490.1 159.4,493.8 160.1,505.2 160.4,510.2 160.8,517.3 161.5,530.2 161.5,530.2 162.2,542.9 162.6,550.3 162.9,556.3 163.5,568.0 163.6,569.6 164.3,580.1 164.3,580.1 165.0,594.4 165.3,600.2 165.7,606.6 166.4,616.6 166.8,622.2 167.1,626.3 167.8,635.8 168.1,640.3 168.5,647.7 168.9,655.0 169.2,659.5 169.7,665.7 169.9,667.7 170.6,673.7 171.3,678.8 171.5,680.1 172.0,683.4 172.7,687.6 173.4,691.5 174.1,695.1 174.5,697.0 174.8,698.4 175.5,701.7 176.2,705.0 176.9,708.1 177.6,710.9 178.3,713.4 179.0,715.5 179.3,716.3 179.7,717.2 180.4,718.6 181.1,719.8 181.8,720.9 182.5,722.0 183.2,723.0 183.9,724.2 184.2,724.7 184.6,725.5 185.3,727.2 186.0,729.0 186.7,730.5 187.4,731.2 187.5,731.3 188.1,730.7 188.8,729.9 189.5,729.1 189.6,729.0 190.2,729.2 190.9,728.9 191.6,730.0 192.3,730.6 193.0,731.8 193.7,732.8 193.8,732.8 194.4,733.7 195.1,734.4 195.8,735.0 196.5,735.9 197.2,736.1 197.9,736.5 198.6,736.9 199.3,737.2 200.0,737.2 200.4,737.8 200.7,737.9 201.4,738.2 202.1,739.3 202.8,740.2 203.5,741.1 204.0,741.3 204.2,741.4 204.9,741.9 205.6,741.8 206.3,742.2 207.0,742.5 207.7,742.9 208.4,742.8 209.1,743.4 209.5,743.7 209.8,743.4 210.5,742.7 211.2,742.1 211.9,741.8 211.9,741.7 212.6,741.6 213.3,742.5 214.0,742.9 214.7,742.8 215.0,743.0 215.4,742.7 216.1,743.3 216.8,743.2 217.5,743.1 218.2,743.2 218.9,742.9 219.6,742.9 220.3,742.9 221.0,743.0 221.7,742.6 222.4,742.9 223.1,742.4 223.8,742.1 224.5,741.7 225.2,741.8 225.9,741.6 226.6,741.3 227.3,741.0 228.0,741.3 228.7,741.1 229.4,741.7 230.1,741.8 230.6,741.8 230.8,742.0 231.5,742.4 232.2,742.4 232.9,743.0 233.6,742.9 234.3,743.2 235.0,743.0 235.7,742.4 236.4,742.5 237.1,742.1 237.8,742.1 238.5,741.7 239.2,741.5 239.9,741.7 240.6,741.3 241.3,741.7 242.0,741.8 242.7,741.9 243.4,742.6 244.1,742.7 244.8,743.1 245.5,743.0 245.7,742.9 246.2,743.2 246.9,742.6 247.6,742.3 248.3,742.5 249.0,741.9 249.7,741.6 250.4,741.7 251.1,741.1 251.8,741.4 252.5,741.2 253.2,741.2 253.9,741.2 254.6,741.6 255.3,742.3 256.0,742.2 256.7,742.3 257.4,742.5 258.1,742.9 258.8,742.3 259.5,742.5 260.2,741.8 260.7,742.1 260.9,741.8 261.6,741.1 262.3,741.4 263.0,740.8 263.7,740.9 264.4,740.7 265.1,740.6 265.8,740.7 266.5,741.0 267.2,741.2 267.9,741.4 268.6,741.6 269.3,742.3 270.0,741.8 270.0,742.1 270.7,741.8 271.4,741.6 272.1,741.7 272.8,741.5 273.5,740.9 274.2,740.2 274.9,740.5 275.6,739.6 276.3,739.6 277.0,739.6 277.7,739.7 278.4,739.6 279.1,739.4 279.8,739.3 280.5,739.5 281.2,739.5 281.9,739.3 282.6,739.1 283.3,738.4 284.0,738.3 284.7,738.1 285.4,737.8 285.7,737.9 286.1,737.4 286.8,737.5 287.5,737.2 288.2,737.4 288.9,737.1 289.6,737.4 290.3,737.4 291.0,737.6 291.7,738.2 292.4,737.9 293.1,738.3 293.8,738.1 294.5,737.6 295.2,737.7 295.9,736.9 296.6,737.0 297.3,736.1 298.0,736.1 298.7,735.4 299.4,735.3 300.1,735.5 300.8,735.3 301.5,735.5 302.2,735.8 302.9,735.7 303.6,736.4 303.9,736.5 304.3,736.1 305.0,736.5 305.7,736.3 306.4,736.4 307.1,735.6 307.8,735.4 308.5,735.1 309.2,734.4 309.9,733.5 310.6,733.4 311.3,732.6 312.0,732.7 312.7,732.4 313.4,732.2 314.1,732.7 314.8,733.0 315.5,733.2 316.2,733.6 316.9,733.3 317.6,733.4 318.3,733.4 319.0,733.5 319.6,733.2 319.7,733.1 320.4,733.0 321.1,732.8 321.8,732.5 322.5,732.7 323.2,732.6 323.9,732.8 324.0,733.0 324.6,732.5 325.3,732.5 326.0,732.1 326.7,731.6 327.4,731.5 327.9,732.0 328.1,731.7 328.8,732.4 329.5,733.0 330.2,733.2 330.9,734.0 331.6,734.2 332.3,734.5 333.0,735.0 333.7,735.1 334.4,735.5 335.1,735.5 335.3,735.9 335.8,735.9 336.5,736.0 337.2,736.6 337.9,737.5 338.6,738.0 339.3,738.5 340.0,739.0 340.7,739.6 341.4,740.4 342.1,740.1 342.8,740.8 343.1,740.8 343.5,740.4 344.2,740.6 344.9,740.8 345.6,741.2 346.3,741.6 347.0,742.1 347.7,742.3 348.4,743.0 349.1,744.2 349.8,745.4 350.5,746.6 351.2,747.4 351.9,748.7 352.6,749.7 353.3,750.3 353.5,750.4 354.0,750.6 354.7,750.8 355.4,750.2 356.1,750.5 356.8,749.9 357.5,749.6 358.2,749.4 358.9,749.5 359.6,749.1 360.3,749.0 361.0,749.2 361.7,749.9 362.4,750.2 363.1,750.3 363.8,750.8 364.5,751.2 365.2,751.5 365.9,751.9 366.6,751.7 367.3,751.8 368.0,751.8 368.7,751.5 369.2,750.8 369.4,750.8 370.1,750.6 370.8,750.5 371.5,750.3 372.2,750.2 372.9,750.5 373.6,750.7 374.3,751.5 375.0,751.8 375.7,752.0 376.4,752.5 377.1,752.6 377.8,752.7 378.5,752.6 379.2,752.4 379.9,752.3 380.6,751.8 381.3,751.3 382.0,750.5 382.2,750.6 382.7,750.3 383.4,750.0 384.1,750.2 384.8,750.3 385.5,750.9 386.2,751.8 386.9,752.5 387.6,753.2 388.3,753.6 389.0,754.2 389.7,754.6 390.4,755.0 391.1,755.1 391.8,755.6 392.5,755.4 393.2,754.8 393.9,754.5 394.6,754.6 395.3,754.1 395.3,754.0 396.0,753.9 396.7,753.7 397.4,753.9 398.1,754.2 398.8,754.2 399.5,754.6 400.2,754.3 400.9,754.7 401.6,755.0 402.3,754.4 403.0,754.4 403.7,754.1 404.4,753.6 405.1,753.6 405.8,752.9 406.5,752.6 407.2,752.6 407.9,751.9 408.6,752.4 409.3,752.1 410.0,752.5 410.7,752.8 411.0,752.9 411.4,752.9 412.1,753.3 412.8,753.6 413.5,754.1 414.2,754.0 414.9,753.7 415.6,753.7 416.3,753.4 417.0,752.7 417.7,752.2 418.4,752.2 419.1,751.8 419.8,751.4 420.5,752.0 421.2,752.1 421.9,752.0 422.6,752.3 423.3,752.6 424.0,753.0 424.7,753.0 425.4,753.2 426.1,753.0 426.6,753.0 426.8,753.1 427.5,752.8 428.2,752.4 428.9,752.4 429.6,752.3 430.3,751.8 431.0,752.0 431.7,751.8 432.4,751.8 433.1,752.0 433.8,751.8 434.5,752.1 435.2,752.8 435.9,753.1 436.6,752.9 437.3,753.4 438.0,753.1 438.7,753.1 439.4,752.9 440.1,752.8 440.8,752.6 441.5,752.6 442.2,752.0 442.9,751.5 443.6,751.3 444.3,751.0 445.0,750.9 445.7,751.1 446.4,751.2 447.1,751.0 447.8,751.2 448.5,751.1 449.2,751.4 449.9,751.3 450.6,751.1 451.3,751.2 452.0,750.9 452.7,750.8 452.7,750.7 453.4,750.9 454.1,750.5 454.8,750.9 455.5,750.5 456.2,750.4 456.9,750.9 457.6,751.1 458.3,751.5 459.0,751.3 459.7,751.9 460.4,752.2 461.1,752.0 461.8,752.2 462.5,752.3 463.2,752.1 463.9,752.3 464.6,752.0 465.3,751.9 466.0,751.4 466.7,751.2 467.4,750.8 468.1,750.6 468.8,750.7 469.5,750.7 470.2,750.1 470.9,749.9 471.6,749.8 472.3,749.9 473.0,750.0 473.7,749.5 474.4,749.5 475.1,749.3 475.8,749.2 476.5,748.6 477.2,748.4 477.9,748.5 478.6,748.3 478.8,748.3 479.3,748.6 480.0,748.6 480.7,748.4 481.4,749.0 482.1,749.5 482.8,749.9 483.5,749.7 484.2,750.5 484.9,750.2 485.6,750.8 486.3,750.8 487.0,750.9 487.7,750.5 488.4,749.9 489.1,750.0 489.8,749.5 490.5,749.5 491.2,748.8 491.9,748.9 492.6,749.0 493.3,748.8 494.0,749.2 494.7,749.4 495.4,749.5 496.1,749.8 496.8,749.6 497.5,749.4 498.2,749.5 498.9,749.4 499.6,748.9 500.3,749.0 501.0,748.3 501.7,748.0 502.4,748.2 503.1,747.9 503.8,747.4 504.5,747.4 504.9,747.8 505.2,747.7 505.9,747.6 506.6,747.9 507.3,748.4 508.0,748.1 508.7,749.0 509.4,748.9 510.1,748.7 510.8,749.1 511.5,748.6 512.2,748.7 512.9,748.6 513.6,748.2 514.3,748.4 515.0,748.1 515.7,747.6 516.4,747.5 517.1,747.4 517.8,747.6 518.5,747.4 519.2,747.6 519.9,747.8 520.6,747.9 521.3,747.5 522.0,747.6 522.7,747.7 523.4,747.6 524.1,747.6 524.8,747.6 525.5,747.7 526.2,747.4 526.9,747.4 527.6,747.4 528.3,747.3 529.0,747.6 529.7,747.5 530.0,747.9 530.4,747.8 531.1,747.5 531.8,747.5 532.5,747.8 533.2,747.5 533.9,747.0 534.6,747.0 535.3,746.5 536.0,746.3 536.7,745.9 537.4,745.5 538.1,745.0 538.8,744.7 539.5,744.1 540.2,743.9 540.9,743.7 541.6,744.2 542.3,743.8 543.0,744.2 543.7,744.3 544.4,744.6 545.1,744.5 545.8,744.3 546.1,744.5 546.5,744.2 547.2,744.2 547.9,744.2 548.6,743.6 549.3,744.0 550.0,743.5 550.7,743.2 551.4,743.5 552.1,743.1 552.8,743.4 553.5,744.0 554.2,744.0 554.9,744.6 555.6,744.6 556.3,745.1 557.0,745.4 557.7,745.2 558.4,745.2 559.1,745.1 559.8,744.8 560.5,744.1 561.2,743.8 561.9,743.7 562.6,742.9 563.3,742.8 564.0,742.2 564.7,742.2 565.4,742.2 566.1,742.3 566.8,742.6 567.5,742.8 568.2,743.0 568.9,743.3 569.6,743.6 570.3,743.4 571.0,743.8 571.7,743.7 572.2,743.6 572.4,743.5 573.1,743.9 573.8,743.8 574.5,743.5 575.2,743.8 575.9,743.5 576.6,743.7 577.3,743.8 578.0,743.9 578.7,743.6 579.4,743.5 580.1,743.8 580.8,743.9 581.5,743.8 582.2,743.5 582.9,743.4 583.6,743.4 584.3,743.3 585.0,742.8 585.7,742.9 586.4,742.5 587.1,742.3 587.8,742.4 588.5,742.7 589.2,742.9 589.9,742.8 590.6,743.2 591.3,743.0 592.0,743.4 592.7,743.4 593.4,743.5 594.1,743.2 594.8,743.3 595.5,743.0 596.2,742.7 596.9,742.4 597.6,741.8 598.3,741.8 598.3,741.6 599.0,741.5 599.7,741.1 600.4,741.2 601.1,741.0 601.8,741.2 602.5,741.9 603.2,741.8 603.9,741.9 604.6,742.4 605.3,742.7 606.0,742.6 606.7,742.6 607.4,742.2 608.1,741.6 608.8,741.1 609.5,740.5 610.2,740.3 610.9,740.2 611.6,740.2 612.3,739.6 613.0,740.2 613.7,740.4 614.4,740.7 615.1,740.7 615.8,741.0 616.5,741.7 617.2,741.9 617.9,741.8 618.6,741.7 619.3,741.3 620.0,741.6 620.7,741.2 621.4,740.9 622.1,740.4 622.8,739.9 623.5,739.9 624.2,739.5 624.4,739.8 624.9,739.6 625.6,739.8 626.3,740.4 627.0,740.4 627.7,741.0 628.4,741.1 629.1,741.2 629.8,741.3 630.5,741.1 631.2,741.4 631.9,741.3 632.6,740.7 633.3,740.6 634.0,740.5 634.7,739.9 635.4,739.9 636.1,739.6 636.8,739.3 637.5,739.3 638.2,738.8 638.9,739.1 639.6,739.1 640.3,738.7 641.0,738.5 641.7,738.3 642.4,738.1 643.1,737.8 643.8,737.7 644.5,737.1 645.2,736.7 645.9,736.2 646.6,735.9 647.3,735.9 648.0,736.0 648.7,735.8 649.4,736.2 650.1,736.7 650.5,737.1 650.8,736.9 651.5,737.4 652.2,737.9 652.9,738.0 653.6,738.5 654.3,738.8 655.0,738.2 655.7,738.2 656.4,737.7 657.1,737.6 657.8,737.6 658.5,737.0 659.2,736.7 659.9,736.7 660.6,737.0 661.3,737.4 662.0,737.6 662.7,738.0 663.4,738.6 664.1,738.6 664.8,739.4 665.5,739.3 666.2,739.3 666.9,739.4 667.6,738.7 668.3,738.3 669.0,737.9 669.7,737.7 670.4,736.9 671.1,736.8 671.8,736.5 672.5,736.7 673.2,736.7 673.9,737.4 674.6,737.9 675.3,737.9 676.0,738.4 676.6,738.8 676.7,738.9 677.4,738.7 678.1,739.1 678.8,739.0 679.5,738.6 680.2,737.8 680.9,737.5 681.6,736.7 682.3,735.9 683.0,735.4 683.7,735.2 684.4,734.9 685.1,735.1 685.8,735.1 686.5,735.0 687.2,735.3 687.9,735.8 688.6,735.7 689.3,735.7 689.7,736.1 690.0,735.8 690.7,735.5 691.4,735.2 692.1,734.6 692.8,734.0 693.5,733.7 694.2,733.1 694.9,732.3 695.6,731.8 696.3,731.7 697.0,731.5 697.7,731.4 698.4,731.2 699.1,731.2 699.8,730.9 700.0,730.8 700.5,730.7 701.2,730.7 701.9,730.2 702.6,729.5 703.3,729.0 704.0,729.2 704.7,729.7 705.4,730.2 706.1,729.4 706.8,728.2 707.2,727.4 707.5,727.0 708.2,727.0 708.9,727.7 709.6,728.1 710.3,727.7 711.0,726.5 711.7,724.9 712.4,724.1 712.7,724.2 713.1,724.4 713.8,725.2 714.5,725.2 715.2,723.6 715.9,722.0 716.6,720.6 717.3,720.5 718.0,721.0 718.1,721.0 718.7,721.3 719.4,720.4 720.1,718.3 720.8,716.7 721.5,715.8 722.2,716.5 722.9,717.1 723.5,716.7 723.6,716.3 724.3,714.5 725.0,712.2 725.7,710.8 726.4,711.1 727.1,711.7 727.8,711.8 728.5,710.2 728.9,708.9 729.2,708.1 729.9,706.4 730.6,705.7 731.3,706.8 732.0,707.5 732.7,706.6 733.4,704.8 734.1,702.3 734.3,701.7 734.8,701.1 735.5,700.8 736.2,700.8 736.9,700.3 737.6,697.7 738.3,694.9 738.9,692.6 739.0,692.4 739.7,691.4 740.4,692.0 741.1,692.6 741.8,691.5 742.5,689.2 743.2,686.3 743.9,685.0 744.3,684.8 744.6,685.1 745.3,686.0 746.0,685.3 746.7,683.5 747.4,680.3 748.1,678.3 748.8,677.5 749.5,677.8 749.7,678.1 750.2,678.1 750.9,676.4 751.6,673.4 752.3,670.4 753.0,668.8 753.7,668.8 754.2,669.0 754.4,668.8 755.1,667.9 755.8,665.8 756.5,663.1 757.2,661.1 757.8,660.3 757.9,660.2 758.6,659.2 759.3,657.8 760.0,655.9 760.7,654.3 761.4,652.4 762.1,650.5 762.2,650.4 762.8,649.0 763.5,647.9 764.2,646.7 764.9,644.7 765.6,642.2 766.3,639.8 766.3,640.0 767.0,638.2 767.7,637.3 768.4,636.0 769.1,634.3 769.8,631.7 770.3,630.0 770.5,629.7 771.2,627.6 771.9,626.6 772.6,625.8 773.3,624.3 774.0,622.4 774.7,620.4 775.3,618.7 775.4,618.5 776.1,617.9 776.8,617.5 777.5,617.0 778.2,616.1 778.9,614.8 779.6,613.3 780.3,612.0 780.3,611.8 781.0,611.2 781.7,610.0 782.4,608.8 783.1,606.4 783.8,604.3 784.5,602.1 785.2,600.5 785.9,599.4 786.3,598.9 786.6,598.3 787.3,596.7 788.0,595.0 788.7,593.4 789.4,592.2 790.1,591.2 790.8,590.3 791.4,589.9 791.5,589.9 792.2,589.6 792.9,589.4 793.6,589.3 794.3,589.1 795.0,589.0 795.7,588.8 796.4,588.5 796.4,588.5 797.1,587.7 797.8,586.3 798.5,585.0 799.2,584.1 799.4,584.1 799.9,584.3 800.6,584.9 801.3,585.7 802.0,586.3 802.4,586.5 802.7,586.6 803.4,586.7 804.1,586.8 804.8,586.9 805.5,587.0 806.2,587.0 806.9,586.9 807.6,586.8 808.3,587.2 809.0,587.8 809.4,587.8 809.7,588.0 810.4,587.7 811.1,588.2 811.8,590.1 812.5,591.9 813.2,592.7 813.9,593.0 814.5,593.9 814.6,594.1 815.3,595.8 816.0,597.5 816.7,598.5 817.4,598.8 818.1,599.5 818.8,601.0 819.5,603.4 820.2,604.6 820.5,604.8 820.9,605.0 821.6,605.8 822.3,607.7 823.0,609.7 823.7,611.4 824.4,612.3 825.1,612.9 825.8,614.7 826.5,617.0 826.5,616.9 827.2,619.0 827.9,619.8 828.6,620.0 829.3,621.3 830.0,623.7 830.7,625.7 831.4,627.0 832.1,627.3 832.5,627.6 832.8,628.5 833.5,630.6 834.2,632.8 834.9,634.2 835.6,634.5 836.3,635.3 837.0,637.5 837.7,639.9 838.4,641.2 838.6,641.3 839.1,641.3 839.8,641.9 840.5,643.6 841.2,646.1 841.9,648.0 842.6,648.0 843.3,648.3 844.0,650.0 844.6,652.0 844.7,652.3 845.4,654.3 846.1,654.5 846.8,654.5 847.5,655.7 848.2,657.9 848.9,660.1 849.6,660.9 850.3,660.7 850.6,660.9 851.0,661.3 851.7,663.6 852.4,666.1 853.1,667.0 853.8,666.8 854.5,667.4 855.2,669.1 855.6,670.4 855.9,671.1 856.6,672.3 857.3,671.8 858.0,672.1 858.7,673.1 859.4,675.3 860.1,676.1 860.8,675.7 861.5,675.7 862.2,676.8 862.7,678.1 862.9,678.6 863.6,679.7 864.3,679.7 865.0,679.3 865.7,680.3 866.4,681.9 867.1,683.0 867.8,683.4 868.5,682.9 869.2,683.6 869.9,685.2 870.6,686.6 871.3,686.6 872.0,686.2 872.7,686.8 873.4,688.2 874.1,689.6 874.8,689.7 875.5,689.6 876.2,689.8 876.9,690.9 877.6,692.1 877.7,692.2 878.3,692.3 879.0,692.1 879.7,691.9 880.4,693.0 881.1,694.2 881.8,694.5 882.5,694.0 883.2,694.0 883.9,695.0 884.6,696.0 885.3,696.2 886.0,696.0 886.7,696.0 887.4,696.7 888.1,697.6 888.8,697.9 889.5,697.7 890.2,697.4 890.9,698.0 891.6,698.9 892.3,699.7 893.0,699.4 893.7,699.0 894.4,699.6 895.1,700.3 895.8,700.9 895.8,701.1 896.5,700.8 897.2,700.2 897.9,700.8 898.6,701.7 899.3,702.3 900.0,702.0 900.7,701.6 901.4,701.8 902.1,702.6 902.8,703.1 903.5,703.0 904.2,703.1 904.9,703.3 905.6,703.5 906.3,703.8 907.0,704.1 907.7,704.2 908.4,704.1 909.1,704.2 909.8,704.5 910.5,705.1 911.2,705.2 911.9,705.2 912.6,705.1 913.3,705.4 914.0,705.7 914.7,706.2 915.4,706.2 916.1,706.1 916.8,706.2 916.9,706.0 917.5,706.4 918.2,706.8 918.9,707.1 919.6,707.2 920.3,707.1 921.0,706.9 921.7,707.4 922.4,707.6 923.1,708.0 923.8,708.1 924.5,707.7 925.2,708.0 925.9,708.2 926.6,708.6 927.3,708.9 928.0,708.9 928.7,708.7 929.4,708.6 930.1,709.1 930.8,709.6 931.5,709.8 932.2,709.6 932.9,709.3 933.6,709.4 934.3,710.1 935.0,710.5 935.7,710.4 936.4,710.3 937.1,709.9 937.8,710.3 938.5,710.9 939.2,711.1 939.9,711.1 940.6,710.6 941.0,710.7 941.3,710.7 942.0,711.0 942.7,711.5 943.4,711.6 944.1,711.7 944.8,711.3 945.5,711.3 946.2,711.5 946.9,712.2 947.6,712.2 948.3,712.1 949.0,711.6 949.7,711.7 950.4,712.2 951.1,712.6 951.8,712.8 952.5,712.3 953.2,712.2 953.9,712.2 954.6,712.8 955.3,713.1 956.0,713.0 956.7,712.8 957.4,712.6 958.1,712.9 958.8,713.4 959.5,713.6 960.2,713.6 960.9,713.2 961.6,713.4 962.3,713.5 963.0,714.1 963.7,714.0 964.4,713.8 965.1,713.6 965.1,713.8 965.8,713.8 966.5,714.2 967.2,714.6 967.9,714.5 968.6,714.4 969.3,714.3 970.0,714.4 970.7,715.0 971.4,715.1 972.1,715.0 972.8,715.0 973.5,715.0 974.2,715.1 974.9,715.4 975.6,715.8 976.3,715.6 977.0,715.5 977.7,715.5 978.4,716.0 979.1,716.2 979.8,716.3 980.5,716.1 981.2,715.9 981.9,716.2 982.6,716.6 983.3,716.7 984.0,716.7 984.7,716.7 985.4,716.9 986.1,717.0 986.1,717.0" fill="none" stroke="#0000ff" stroke-width="1.75" stroke-linejoin="round"/>
<path d="M102.5,639.8 103.2,639.4 103.8,638.3 103.9,637.1 104.5,619.7 104.6,620.1 105.3,630.3 105.3,630.3 106.0,633.4 106.5,634.3 106.7,634.4 107.4,634.6 108.1,634.8 108.1,634.8 108.8,639.9 109.3,642.8 109.5,642.0 110.1,637.3 110.2,637.1 110.9,636.0 111.6,635.3 112.3,634.7 112.6,634.3 113.0,633.7 113.7,632.7 114.4,631.6 115.1,630.3 115.1,630.3 115.8,628.7 116.5,626.9 117.2,624.9 117.9,622.8 118.1,622.2 118.6,620.7 119.3,618.5 120.0,616.2 120.7,613.7 121.1,612.2 121.4,611.0 122.1,607.9 122.8,604.5 123.5,600.8 123.6,600.2 124.2,596.5 124.9,591.6 125.1,590.1 125.6,585.9 126.3,579.6 126.6,577.1 127.0,574.3 127.6,570.0 127.7,569.1 128.4,561.4 129.1,552.6 129.3,550.3 129.8,544.7 130.5,537.0 131.1,530.2 131.2,529.0 131.9,520.8 132.6,512.5 132.8,510.2 133.3,504.7 134.0,497.1 134.6,490.1 134.7,488.8 135.4,479.4 135.9,472.0 136.1,468.7 136.7,458.6 136.8,457.3 137.5,449.5 138.2,442.7 138.3,441.7 138.9,435.8 139.6,429.1 139.8,427.3 140.3,422.8 141.0,416.7 141.6,411.6 141.7,410.8 142.4,405.1 143.1,399.5 143.4,397.2 143.8,394.2 144.5,389.1 145.2,383.9 145.2,383.9 145.9,378.2 146.4,374.3 146.6,372.9 147.3,368.2 147.6,367.0 148.0,366.1 148.7,364.9 149.4,364.4 149.4,364.4 150.1,364.6 150.8,365.1 151.5,365.7 152.2,366.3 152.4,366.4 152.9,366.7 153.6,367.0 154.3,367.5 154.5,367.7 155.0,369.2 155.7,373.1 155.7,373.1 156.4,378.3 156.9,382.7 157.1,384.5 157.8,391.0 158.4,397.2 158.5,398.3 159.2,406.6 159.6,411.6 159.9,415.4 160.6,424.5 160.8,427.3 161.3,434.7 162.0,445.4 162.0,445.4 162.7,455.8 163.3,465.0 163.4,466.6 164.1,478.6 164.8,490.1 164.8,490.1 165.5,500.0 166.2,509.0 166.3,510.2 166.9,517.0 167.6,524.5 168.1,530.2 168.3,532.6 169.0,541.5 169.7,550.7 169.8,552.0 170.4,560.1 171.1,569.2 171.3,571.5 171.8,576.8 172.5,583.5 172.8,586.1 173.2,589.4 173.9,594.5 174.3,597.1 174.6,598.8 175.3,602.5 176.0,605.8 176.3,607.2 176.7,609.1 177.4,612.4 178.1,615.4 178.3,616.2 178.8,618.1 179.5,620.5 180.2,622.8 180.9,625.0 181.3,626.3 181.6,627.2 182.3,629.4 183.0,631.6 183.7,633.7 184.4,635.7 185.1,637.5 185.4,638.3 185.8,639.3 186.5,641.0 187.2,642.6 187.9,644.1 188.6,645.6 189.3,647.0 190.0,648.4 190.6,649.5 190.7,649.7 191.4,650.9 192.1,652.2 192.8,653.5 193.5,654.4 194.2,655.0 194.9,655.5 195.0,655.7 195.6,656.9 196.3,658.8 197.0,661.5 197.7,663.2 198.0,663.7 198.4,664.2 199.1,664.3 199.8,663.8 200.5,663.4 201.0,663.3 201.2,663.2 201.9,664.1 202.6,665.1 203.3,666.0 204.0,666.8 204.7,667.1 205.2,667.2 205.4,666.8 206.1,666.2 206.8,665.1 207.5,664.2 208.2,663.5 208.9,663.3 208.9,663.4 209.6,663.3 210.3,663.2 211.0,663.9 211.7,664.2 212.4,664.7 212.5,664.9 213.1,665.7 213.8,667.0 214.5,668.9 215.0,670.1 215.2,670.3 215.9,670.7 216.6,670.8 217.3,670.9 218.0,670.4 218.6,670.0 218.7,669.9 219.4,670.0 220.1,671.5 220.8,672.4 221.5,673.3 222.2,673.7 222.9,672.7 223.6,671.9 224.3,670.2 225.0,669.7 225.7,669.8 226.4,670.6 227.1,671.4 227.8,672.3 228.5,671.9 229.2,671.4 229.9,670.7 230.6,670.5 230.6,670.2 231.3,670.7 232.0,671.1 232.7,672.2 233.4,673.2 234.1,673.2 234.8,672.6 235.5,671.8 236.2,670.3 236.9,669.4 237.6,669.8 238.3,670.3 239.0,671.2 239.7,671.9 240.4,671.8 241.1,670.9 241.8,669.9 242.5,669.5 243.2,669.5 243.9,670.1 244.6,670.6 245.3,671.6 245.7,672.0 246.0,671.6 246.7,671.1 247.4,670.2 248.1,669.2 248.8,668.9 249.5,669.0 250.2,670.2 250.9,671.4 251.6,672.5 252.3,673.0 253.0,672.9 253.7,672.7 254.4,671.9 255.1,671.7 255.8,672.0 256.5,672.9 257.2,673.3 257.9,673.4 258.6,673.0 259.3,672.0 260.0,671.2 260.7,670.6 260.7,670.4 261.4,670.0 262.1,669.8 262.8,670.2 263.5,670.5 264.2,670.9 264.9,671.6 265.6,671.6 266.3,671.5 267.0,671.2 267.7,671.2 268.4,671.1 269.1,670.8 269.8,670.6 270.0,670.5 270.5,670.5 271.2,670.8 271.9,670.7 272.6,669.9 273.3,668.8 274.0,668.2 274.7,668.7 275.4,670.2 276.1,671.6 276.8,671.6 277.5,669.8 278.2,668.3 278.9,666.9 279.6,666.9 280.3,668.3 281.0,670.2 281.7,670.7 282.4,670.0 283.1,668.1 283.8,666.6 284.5,665.7 285.2,666.4 285.7,667.9 285.9,668.4 286.6,669.8 287.3,669.6 288.0,668.5 288.7,666.2 289.4,664.8 290.1,664.6 290.8,666.0 291.5,667.8 292.2,668.8 292.9,668.1 293.6,666.2 294.3,663.8 295.0,662.9 295.7,663.6 296.4,665.1 297.1,667.0 297.8,667.4 298.5,666.0 299.2,664.0 299.9,662.1 300.6,661.7 301.3,662.7 301.3,662.8 302.0,664.8 302.7,665.9 303.4,665.7 304.1,664.0 304.8,661.8 305.5,660.2 306.2,660.6 306.9,662.0 307.6,664.0 308.3,664.6 309.0,663.9 309.7,662.0 310.4,659.8 311.1,659.0 311.8,659.7 312.5,661.5 313.2,663.0 313.9,663.5 314.6,662.2 315.3,660.1 316.0,658.5 316.7,658.4 317.0,658.8 317.4,659.8 318.1,661.9 318.8,663.3 319.5,663.2 320.2,661.5 320.9,659.9 321.6,658.7 322.3,659.4 323.0,660.7 323.7,662.8 324.4,663.6 324.8,663.4 325.1,663.1 325.8,661.5 326.5,660.1 327.2,659.5 327.9,660.6 328.6,662.6 329.3,664.0 330.0,664.9 330.7,664.1 331.4,662.7 332.1,661.8 332.8,662.2 333.5,663.7 334.2,665.6 334.9,666.8 335.3,667.3 335.6,667.0 336.3,666.4 337.0,665.2 337.7,664.9 338.4,666.0 339.1,667.6 339.8,669.6 340.5,670.6 341.2,670.5 341.9,670.2 342.6,670.4 343.3,670.9 344.0,671.8 344.7,672.5 345.4,672.9 345.7,673.1 346.1,673.5 346.8,674.2 347.5,674.5 348.2,674.1 348.9,673.7 349.6,674.0 350.3,675.3 351.0,676.7 351.7,677.7 352.4,677.1 353.1,676.2 353.8,675.3 354.5,675.8 355.2,677.2 355.9,679.1 356.6,679.3 357.3,678.5 358.0,677.1 358.7,676.7 358.7,676.4 359.4,677.2 360.1,679.0 360.8,680.2 361.5,680.4 362.2,679.2 362.9,677.5 363.6,677.3 364.3,678.2 365.0,680.0 365.7,681.5 366.4,681.2 367.1,679.5 367.8,678.0 368.5,677.7 369.2,679.3 369.9,681.0 370.6,682.0 371.3,681.4 372.0,679.7 372.7,678.0 373.4,678.1 374.1,679.9 374.4,680.5 374.8,681.6 375.5,682.0 376.2,681.0 376.9,679.1 377.6,678.1 378.3,678.6 379.0,680.2 379.7,682.0 380.4,682.1 381.1,680.6 381.8,678.7 382.5,678.0 383.2,678.6 383.9,680.6 384.6,682.1 385.3,681.8 386.0,680.4 386.7,678.4 387.4,678.0 388.1,679.1 388.8,681.2 389.5,682.3 390.2,681.7 390.9,679.8 391.6,678.2 392.3,677.9 393.0,679.3 393.7,681.5 394.4,682.2 395.1,681.5 395.8,679.7 396.5,678.2 397.2,678.4 397.9,680.0 398.6,681.8 399.3,682.0 400.0,681.3 400.5,679.8 400.7,679.2 401.4,678.1 402.1,678.6 402.8,680.3 403.5,681.9 404.2,682.0 404.9,681.0 405.6,679.2 406.3,678.1 407.0,678.9 407.7,680.7 408.4,682.0 409.1,682.0 409.8,680.5 410.5,679.4 411.2,679.2 411.9,679.7 412.6,680.7 413.3,681.0 414.0,680.8 414.7,680.6 415.4,680.6 416.1,680.7 416.8,680.7 417.5,680.7 418.2,680.4 418.9,680.7 419.6,680.7 420.3,680.9 421.0,680.9 421.7,681.1 422.4,680.6 423.1,680.6 423.8,680.6 424.5,680.8 425.2,681.0 425.9,681.2 426.6,681.1 426.6,681.1 427.3,680.7 428.0,680.6 428.7,680.4 429.4,680.4 430.1,680.3 430.8,680.1 431.5,679.8 432.2,679.6 432.9,679.6 433.6,679.7 434.3,679.6 435.0,679.1 435.7,678.2 436.4,676.9 437.1,676.6 437.1,676.2 437.8,676.7 438.5,677.7 439.2,678.3 439.9,679.3 440.6,679.9 441.3,679.7 442.0,678.8 442.7,677.9 443.4,676.9 444.1,676.2 444.8,676.4 445.5,676.8 446.2,677.9 446.9,678.8 447.6,679.5 448.3,679.7 449.0,679.3 449.7,678.1 450.4,677.3 451.1,676.6 451.8,676.3 452.5,676.7 452.7,676.4 453.2,677.5 453.9,678.0 454.6,679.2 455.3,679.3 456.0,678.7 456.7,678.4 457.4,677.0 458.1,676.6 458.8,676.0 459.5,676.2 460.2,676.7 460.9,677.4 461.6,678.4 462.3,678.6 463.0,678.7 463.7,678.2 464.4,676.7 465.1,675.8 465.8,675.4 466.5,675.1 467.2,675.7 467.9,676.4 468.6,677.1 469.3,677.5 470.0,677.9 470.7,677.3 471.4,676.8 472.1,675.7 472.8,675.3 473.5,674.6 474.2,675.0 474.9,675.4 475.6,676.6 476.3,676.8 477.0,677.3 477.7,676.8 478.4,676.4 478.8,675.9 479.1,675.6 479.8,674.8 480.5,674.3 481.2,674.3 481.9,674.6 482.6,675.3 483.3,676.0 484.0,676.8 484.7,676.6 485.4,676.2 486.1,675.3 486.8,674.3 487.5,673.6 488.2,673.9 488.9,674.5 489.6,675.0 490.3,675.2 491.0,675.9 491.7,675.8 492.4,675.5 493.1,675.1 493.8,674.1 494.5,673.6 495.2,673.2 495.9,673.5 496.6,674.0 497.3,674.9 498.0,675.1 498.7,675.9 499.4,675.1 500.1,674.5 500.8,674.2 501.5,673.1 502.2,672.6 502.9,672.8 503.6,673.6 504.3,674.3 504.9,674.8 505.0,674.9 505.7,675.1 506.4,675.2 507.1,674.3 507.8,673.6 508.5,673.0 509.2,672.3 509.9,672.1 510.6,672.5 511.3,673.5 512.0,674.0 512.7,674.4 513.4,674.5 514.1,673.8 514.8,673.3 515.5,672.2 516.2,671.6 516.9,671.4 517.6,672.0 518.3,672.3 519.0,673.5 519.7,673.9 520.4,673.7 521.1,673.3 521.8,672.6 522.5,671.7 523.2,671.3 523.9,670.9 524.6,670.8 525.3,671.6 526.0,672.2 526.7,673.4 527.4,673.6 528.1,673.3 528.8,672.5 529.5,671.2 530.0,670.8 530.2,670.7 530.9,670.5 531.6,670.9 532.3,671.3 533.0,671.7 533.7,671.9 534.4,671.8 535.1,671.6 535.8,671.7 536.5,671.6 537.2,671.2 537.9,670.9 538.6,670.5 539.3,670.5 540.0,670.7 540.7,671.6 541.4,671.8 542.1,672.4 542.8,671.4 543.5,670.7 544.2,670.2 544.9,670.0 545.6,669.4 546.1,669.6 546.3,669.7 547.0,670.5 547.7,671.7 548.4,672.2 549.1,672.6 549.8,671.9 550.5,671.3 551.2,670.1 551.9,669.6 552.6,669.8 553.3,670.1 554.0,670.8 554.7,672.0 555.4,672.5 556.1,672.5 556.8,672.4 557.5,671.6 558.2,670.8 558.9,669.8 559.6,669.6 560.3,670.1 561.0,670.6 561.7,671.2 562.4,672.3 563.1,672.4 563.8,672.4 564.5,671.8 565.2,671.0 565.9,670.2 566.6,670.0 567.3,669.7 568.0,670.3 568.7,670.7 569.4,671.0 570.1,671.3 570.8,671.2 571.5,671.2 572.2,670.9 572.2,670.9 572.9,670.4 573.6,670.3 574.3,670.8 575.0,670.6 575.7,670.8 576.4,671.1 577.1,670.8 577.8,670.5 578.5,669.8 579.2,669.5 579.9,669.1 580.6,668.7 581.3,668.6 582.0,668.5 582.7,668.6 583.4,668.2 584.1,667.9 584.8,667.1 585.5,666.3 586.2,665.4 586.9,665.3 587.6,664.9 588.3,665.1 589.0,665.9 589.7,666.4 590.4,667.1 591.1,666.9 591.8,666.2 592.5,665.6 593.1,664.6 593.2,664.6 593.9,663.4 594.6,663.3 595.3,663.9 596.0,664.7 596.7,665.5 597.4,666.2 598.1,666.9 598.8,666.2 599.5,665.2 600.2,664.6 600.9,663.6 601.6,663.5 602.3,663.4 603.0,664.3 603.7,665.5 604.4,666.1 605.1,666.2 605.8,666.1 606.5,665.3 607.2,664.1 607.9,663.5 608.6,663.6 609.3,663.9 610.0,664.4 610.7,665.1 611.4,666.0 612.1,666.2 612.8,666.2 613.5,665.6 614.2,664.7 614.9,664.6 615.6,664.2 616.3,664.4 617.0,664.9 617.7,665.5 618.4,666.1 619.1,665.9 619.8,665.7 620.5,665.0 621.2,664.2 621.9,663.8 622.6,663.5 623.3,664.0 624.0,664.4 624.4,664.5 624.7,664.8 625.4,665.7 626.1,666.3 626.8,666.1 627.5,665.9 628.2,665.7 628.9,665.2 629.6,664.9 630.3,665.0 631.0,664.6 631.7,664.7 632.4,665.3 633.1,665.2 633.8,665.2 634.5,664.7 635.2,664.5 635.9,664.7 636.6,664.5 637.3,664.6 638.0,665.0 638.7,665.3 639.4,665.1 640.1,665.0 640.8,664.8 641.5,664.2 642.2,663.6 642.9,662.9 643.6,662.5 644.3,663.0 645.0,663.2 645.7,663.9 646.4,664.1 647.1,664.2 647.8,664.2 648.5,663.3 649.2,662.7 649.9,661.8 650.5,661.7 650.6,661.6 651.3,662.2 652.0,662.5 652.7,663.2 653.4,663.8 654.1,663.9 654.8,664.5 655.5,664.4 656.2,664.2 656.9,663.9 657.6,663.7 658.3,664.0 659.0,664.1 659.7,664.1 660.4,664.5 661.1,664.3 661.8,663.6 662.5,663.3 663.2,663.1 663.9,662.5 664.6,662.3 665.3,663.3 666.0,663.8 666.7,664.4 667.4,665.1 668.1,664.8 668.8,664.1 669.5,663.1 670.2,662.7 670.9,661.6 671.6,661.8 672.3,661.9 673.0,663.1 673.7,663.7 674.4,664.8 675.1,664.7 675.8,664.8 676.5,663.7 676.6,663.7 677.2,663.0 677.9,661.9 678.6,661.5 679.3,661.9 680.0,662.4 680.7,663.2 681.4,663.6 682.1,664.2 682.8,663.7 683.5,662.9 684.2,662.0 684.9,661.7 685.6,660.6 686.3,660.6 687.0,660.5 687.7,660.7 688.4,660.4 689.1,660.1 689.7,659.7 689.8,659.6 690.5,659.4 691.2,658.5 691.9,658.2 692.6,657.8 693.3,657.6 694.0,658.0 694.7,658.0 695.4,657.8 696.1,657.2 696.8,656.6 697.5,656.1 698.2,655.5 698.9,655.1 699.6,654.8 700.0,654.7 700.3,654.6 701.0,654.1 701.7,653.5 702.4,652.8 703.1,652.1 703.8,651.2 704.5,650.7 705.2,650.2 705.9,649.8 706.6,649.7 707.3,649.3 708.0,649.4 708.7,649.2 709.0,648.9 709.4,649.0 710.1,648.7 710.8,648.7 711.5,649.0 712.2,649.2 712.9,649.3 713.1,649.4 713.6,649.3 714.3,649.2 715.0,648.5 715.7,647.5 716.4,645.9 717.1,644.3 717.8,642.5 718.5,640.7 719.2,639.3 719.9,638.1 720.1,637.9 720.6,637.7 721.3,637.4 722.0,637.2 722.7,637.4 723.4,637.1 724.1,636.7 724.8,636.2 725.5,635.4 726.1,634.6 726.2,634.6 726.9,633.2 727.6,631.3 728.3,629.4 729.0,627.7 729.7,626.0 730.4,624.4 731.1,623.1 731.8,622.4 732.1,622.2 732.5,621.9 733.2,621.4 733.9,621.1 734.6,620.7 735.1,620.1 735.3,619.7 736.0,618.2 736.7,615.7 737.4,613.0 738.1,611.7 738.2,611.6 738.8,611.2 739.5,610.8 740.2,610.4 740.9,610.1 741.2,609.7 741.6,608.9 742.3,607.6 743.0,605.2 743.7,603.2 744.4,600.8 745.1,598.8 745.8,597.3 746.2,596.7 746.5,595.8 747.2,595.3 747.9,594.4 748.6,593.5 749.3,592.4 750.0,591.0 750.2,590.5 750.7,589.3 751.4,586.5 752.1,583.6 752.8,581.0 753.5,578.4 754.2,576.6 754.2,576.6 754.9,575.3 755.6,573.9 756.3,572.9 757.0,571.7 757.7,570.6 758.4,569.3 759.1,568.2 759.8,566.8 760.2,565.9 760.5,565.1 761.2,563.4 761.9,561.3 762.6,559.0 763.3,556.7 764.0,554.5 764.7,552.2 765.3,550.2 765.4,550.2 766.1,548.4 766.8,546.8 767.5,545.3 768.2,544.1 768.9,542.8 769.3,541.9 769.6,541.3 770.3,539.7 771.0,537.5 771.7,534.9 772.4,532.0 773.1,529.3 773.8,526.3 774.5,523.9 775.2,521.9 775.3,521.5 775.9,520.5 776.6,519.4 777.3,518.4 778.0,517.7 778.7,517.3 779.4,516.2 780.1,515.1 780.3,514.6 780.8,513.1 781.5,509.5 782.2,506.0 782.9,503.0 783.3,501.8 783.6,501.1 784.3,499.5 785.0,498.7 785.7,498.0 786.4,497.4 787.1,496.7 787.8,496.4 788.5,495.8 789.2,494.9 789.9,493.9 790.6,493.0 791.3,492.0 791.4,492.0 792.0,491.1 792.7,489.8 793.4,488.4 794.1,487.1 794.8,486.0 795.5,485.3 796.0,485.1 796.2,485.1 796.9,485.3 797.6,485.8 798.3,486.3 799.0,487.0 799.7,487.6 800.4,488.1 800.4,488.1 801.1,488.6 801.8,488.9 802.5,489.1 803.2,489.5 803.9,489.8 804.6,490.5 805.3,491.2 805.4,491.2 806.0,491.8 806.7,492.8 807.4,493.6 808.1,494.7 808.8,496.1 809.5,497.4 810.2,498.7 810.4,498.9 810.9,500.0 811.6,501.2 812.3,502.4 813.0,503.5 813.7,504.7 814.4,505.9 815.1,507.3 815.5,508.0 815.8,508.8 816.5,510.5 817.2,512.4 817.9,513.9 818.6,515.7 819.3,517.2 820.0,518.8 820.5,520.1 820.7,520.5 821.4,522.3 822.1,524.1 822.8,525.8 823.5,527.7 824.2,529.4 824.9,530.8 825.6,532.1 826.3,533.7 826.5,534.0 827.0,535.2 827.7,536.7 828.4,538.0 829.1,539.7 829.8,541.1 830.5,542.5 831.2,543.7 831.9,545.0 832.5,546.0 832.6,546.3 833.3,547.6 834.0,549.3 834.7,550.9 835.4,552.4 836.1,553.7 836.8,554.9 837.5,556.3 838.2,557.5 838.6,558.1 838.9,558.8 839.6,560.3 840.3,561.8 841.0,563.5 841.7,565.0 842.4,566.5 843.1,567.7 843.8,569.0 844.5,570.0 844.6,570.3 845.2,571.2 845.9,572.6 846.6,574.1 847.3,575.4 848.0,576.7 848.7,577.8 849.4,578.8 850.1,579.8 850.6,580.2 850.8,580.6 851.5,581.4 852.2,582.4 852.9,583.2 853.6,583.8 854.3,584.6 855.0,584.9 855.6,585.4 855.7,585.7 856.4,586.1 857.1,586.9 857.8,587.9 858.5,588.8 859.2,589.8 859.9,590.6 860.0,590.8 860.6,591.4 861.3,592.2 862.0,592.7 862.7,593.5 863.4,594.1 864.1,594.8 864.8,595.9 865.5,596.7 866.2,597.5 866.9,598.0 867.6,598.7 868.3,599.1 868.7,599.5 869.0,599.7 869.7,600.3 870.4,601.0 871.1,601.8 871.8,602.4 872.5,602.8 873.2,603.4 873.9,603.8 874.6,604.0 875.3,604.5 876.0,605.1 876.7,605.6 877.4,606.3 878.1,606.8 878.8,607.1 879.5,607.6 880.2,608.0 880.9,608.4 881.6,608.8 882.3,609.5 883.0,609.9 883.7,610.5 883.7,610.3 884.4,610.9 885.1,611.1 885.8,611.3 886.5,611.7 887.2,611.7 887.9,612.1 888.6,612.5 889.3,612.9 890.0,613.2 890.7,613.3 891.4,613.5 892.1,613.7 892.8,613.9 893.5,614.2 894.2,614.7 894.9,615.1 895.6,615.4 896.3,615.7 897.0,615.7 897.7,615.7 898.4,615.7 898.8,615.9 899.1,615.9 899.8,616.1 900.5,616.7 901.2,616.9 901.9,617.3 902.6,617.4 903.3,617.4 904.0,617.5 904.7,617.7 905.4,618.0 906.1,618.2 906.8,618.5 907.5,618.8 908.2,618.8 908.9,618.9 909.6,619.1 910.3,619.2 911.0,619.2 911.7,619.5 912.4,619.8 913.1,619.9 913.8,620.2 914.5,620.3 915.2,620.4 915.9,620.4 916.6,620.7 916.9,620.7 917.3,620.8 918.0,620.9 918.7,620.9 919.4,621.1 920.1,621.3 920.8,621.3 921.5,621.6 922.2,621.4 922.9,621.6 923.6,621.9 924.3,622.0 925.0,622.1 925.7,622.4 926.4,622.4 927.1,622.2 927.8,622.4 928.5,622.1 929.2,622.4 929.9,622.7 930.6,622.9 931.3,623.1 932.0,623.2 932.7,623.4 933.4,623.5 934.1,623.3 934.8,623.6 935.5,623.6 936.2,623.6 936.9,623.9 937.6,624.0 938.3,624.1 939.0,623.9 939.7,623.9 940.4,624.0 941.0,624.1 941.1,624.1 941.8,624.0 942.5,624.3 943.2,624.7 943.9,624.8 944.6,624.8 945.3,624.7 946.0,624.7 946.7,624.8 947.4,624.9 948.1,625.0 948.8,625.4 949.5,625.3 950.2,625.6 950.9,625.4 951.6,625.4 952.3,625.6 953.0,625.4 953.7,625.5 954.4,625.7 955.1,626.1 955.8,626.3 956.5,626.3 957.2,626.3 957.9,626.4 958.6,626.3 959.3,626.3 960.0,626.5 960.7,626.5 961.4,626.6 962.1,626.7 962.8,626.5 963.5,626.3 964.2,626.4 964.9,626.3 965.1,626.3 965.6,626.5 966.3,626.7 967.0,626.7 967.7,626.9 968.4,627.1 969.1,627.0 969.8,627.0 970.5,626.7 971.2,626.8 971.9,626.7 972.6,626.8 973.3,626.9 974.0,627.1 974.7,627.1 975.4,626.9 976.1,627.0 976.8,627.0 977.5,627.2 978.2,627.2 978.9,627.3 979.6,627.4 980.3,627.3 981.0,627.3 981.7,627.1 982.4,627.1 983.1,627.0 983.8,627.1 984.5,627.2 985.2,627.2 985.9,627.2 986.1,627.2" fill="none" stroke="#008000" stroke-width="1.75" stroke-linejoin="round"/>
<path d="M499.7,798.4 L501.8,815.3 L503.2,801 L504.9,810.1 L506.5,795 L508.1,768.3 L509,800 L511.5,817.4 L513.3,799.7" fill="none" stroke="#ff0000" stroke-width="1.75" stroke-linejoin="round"/>
<polygon points="105.4,389.9 103.6,388.4 101.8,386.8 100.0,385.3 98.2,383.8 96.4,382.2 94.6,380.6 92.8,379.0 91.0,377.4 89.2,375.7 87.4,374.0 85.7,372.2 83.9,370.4 82.1,368.6 80.3,366.7 78.5,364.7 76.7,362.7 74.9,360.6 73.1,358.5 71.3,356.2 69.5,354.0 67.7,351.6 66.0,349.3 64.2,346.8 62.4,344.4 60.7,341.8 59.0,339.3 57.3,336.7 55.6,334.1 53.9,331.5 52.3,328.8 50.6,326.1 49.0,323.4 47.5,320.7 45.9,318.0 44.4,315.3 42.9,312.6 41.5,309.9 40.1,307.2 38.7,304.5 37.4,301.8 36.0,299.1 34.8,296.5 33.6,293.8 32.4,291.2 31.2,288.7 30.1,286.1 29.1,283.6 28.0,281.2 27.1,278.7 26.1,276.4 25.2,274.0 24.4,271.7 23.6,269.5 22.9,267.4 22.2,265.3 21.6,263.2 21.0,261.2 20.4,259.3 19.9,257.5 19.5,255.6 19.1,253.9 18.7,252.2 18.4,250.5 18.1,248.9 17.9,247.3 17.7,245.8 17.5,244.4 17.4,242.9 17.3,241.5 17.3,240.1 17.3,238.7 17.3,237.3 17.4,235.9 17.5,234.5 17.6,233.0 17.8,231.5 18.0,229.9 18.2,228.3 18.5,226.7 18.7,225.0 19.1,223.3 19.4,221.6 19.8,220.0 20.3,218.3 20.8,216.7 21.3,215.1 21.9,213.5 22.5,212.0 23.2,210.6 24.0,209.2 24.7,207.9 25.6,206.6 26.4,205.3 27.3,204.1 28.2,202.9 29.2,201.7 30.2,200.5 31.2,199.3 32.2,198.2 33.2,197.0 34.3,195.8 35.4,194.7 36.5,193.5 37.6,192.3 38.7,191.2 39.8,190.0 40.9,188.8 42.1,187.6 43.2,186.4 44.3,185.2 45.5,184.0 46.6,182.8 47.8,181.6 48.9,180.4 50.0,179.1 51.2,177.9 52.3,176.7 53.5,175.4 54.6,174.2 54.6,174.2 54.3,175.4 54.0,176.6 53.7,177.9 53.4,179.1 53.2,180.3 52.9,181.5 52.7,182.8 52.5,184.0 52.3,185.2 52.1,186.5 51.9,187.7 51.8,189.0 51.7,190.2 51.6,191.5 51.6,192.8 51.6,194.1 51.6,195.4 51.6,196.7 51.6,198.0 51.7,199.4 51.8,200.7 51.9,202.1 52.0,203.5 52.2,205.0 52.3,206.4 52.5,207.9 52.7,209.4 53.0,210.9 53.3,212.5 53.5,214.0 53.8,215.6 54.2,217.3 54.5,218.9 54.9,220.6 55.2,222.2 55.6,223.9 56.0,225.6 56.4,227.3 56.9,228.9 57.3,230.6 57.7,232.2 58.2,233.8 58.6,235.3 59.1,236.9 59.6,238.4 60.1,240.0 60.6,241.5 61.1,243.1 61.6,244.6 62.2,246.2 62.8,247.8 63.5,249.5 64.1,251.2 64.9,253.0 65.6,254.9 66.5,256.8 67.3,258.8 68.2,260.8 69.2,262.9 70.1,265.0 71.2,267.1 72.2,269.3 73.3,271.5 74.4,273.7 75.5,276.0 76.7,278.2 77.8,280.4 79.0,282.5 80.3,284.7 81.5,286.8 82.7,288.9 84.0,291.0 85.2,292.9 86.5,294.9 87.7,296.7 89.0,298.6 90.3,300.4 91.6,302.1 92.9,303.9 94.3,305.6 95.6,307.2 97.0,308.9 98.4,310.5 99.9,312.1 101.3,313.8 102.8,315.4 104.3,317.0 105.9,318.6 107.4,320.3 109.1,321.9 110.7,323.6 112.4,325.2 114.1,326.9 115.8,328.6 117.6,330.3 119.4,332.0 121.2,333.7 123.0,335.4 124.9,337.2 126.7,338.9 128.6,340.6 130.5,342.4 132.4,344.1 134.3,345.9 136.2,347.6 138.1,349.4 140.0,351.1" fill="#d9d9d9" stroke="#000" stroke-width="3.0" stroke-linejoin="miter"/>
<polygon points="54.6,174.2 55.4,173.2 56.3,172.2 57.1,171.1 57.9,170.1 58.8,169.1 59.7,168.1 60.5,167.1 61.4,166.2 62.3,165.2 63.2,164.3 64.1,163.4 65.1,162.5 66.0,161.6 67.0,160.8 68.0,159.9 69.0,159.1 70.1,158.3 71.2,157.6 72.3,156.8 73.4,156.0 74.6,155.3 75.8,154.6 77.1,153.9 78.4,153.2 79.7,152.5 81.0,151.8 82.4,151.1 83.8,150.5 85.2,149.9 86.7,149.3 88.1,148.8 89.6,148.3 91.0,147.9 92.5,147.4 94.0,147.1 95.5,146.7 97.0,146.5 98.4,146.2 99.9,146.1 101.4,145.9 102.9,145.8 104.3,145.7 105.8,145.6 107.2,145.6 108.7,145.6 110.1,145.6 111.6,145.6 113.0,145.6 114.4,145.6 115.8,145.7 117.2,145.7 118.6,145.8 120.0,145.9 121.4,146.0 122.9,146.1 124.3,146.2 125.8,146.4 127.3,146.6 128.8,146.8 130.3,147.0 131.8,147.3 133.4,147.7 135.0,148.0 136.6,148.4 138.3,148.8 139.9,149.2 141.6,149.7 143.3,150.1 145.0,150.6 146.7,151.2 148.5,151.7 150.2,152.3 152.0,152.8 153.7,153.4 155.5,154.0 157.2,154.6 159.0,155.2 160.7,155.9 162.5,156.5 164.3,157.2 166.0,157.8 167.8,158.5 169.6,159.2 171.3,159.9 173.1,160.7 174.8,161.4 176.6,162.2 178.3,163.0 180.1,163.8 181.8,164.6 183.5,165.4 185.3,166.3 187.0,167.1 188.7,168.0 190.5,168.9 192.2,169.8 193.9,170.7 195.6,171.7 197.3,172.6 199.0,173.6 200.7,174.5 202.4,175.5 204.1,176.5 205.8,177.5 207.5,178.4 209.2,179.4 210.9,180.4 228.3,160.8 243.2,235.8 158.8,238.6 177.7,219.0 177.7,219.0 176.2,218.1 174.7,217.1 173.3,216.2 171.8,215.3 170.3,214.3 168.8,213.4 167.3,212.5 165.8,211.6 164.3,210.7 162.8,209.9 161.3,209.0 159.8,208.2 158.2,207.4 156.7,206.5 155.1,205.8 153.6,205.0 152.0,204.3 150.4,203.5 148.8,202.8 147.3,202.2 145.7,201.5 144.0,200.9 142.4,200.2 140.8,199.6 139.2,199.0 137.6,198.4 135.9,197.8 134.3,197.2 132.6,196.7 131.0,196.1 129.3,195.6 127.7,195.0 126.0,194.5 124.4,194.0 122.8,193.5 121.1,192.9 119.5,192.4 117.9,191.9 116.3,191.4 114.7,191.0 113.1,190.5 111.5,190.0 109.9,189.6 108.4,189.2 106.9,188.7 105.4,188.3 103.9,187.9 102.5,187.5 101.1,187.2 99.6,186.8 98.2,186.5 96.8,186.2 95.4,185.8 94.0,185.6 92.7,185.3 91.3,185.0 89.9,184.8 88.5,184.6 87.0,184.4 85.6,184.3 84.2,184.1 82.7,184.0 81.3,184.0 79.9,183.9 78.4,183.9 77.0,183.9 75.5,183.9 74.1,183.9 72.7,184.0 71.2,184.1 69.8,184.2 68.4,184.4 67.0,184.6 65.6,184.8 64.3,185.0 62.9,185.3 61.5,185.6 60.2,185.8 58.8,186.1 57.4,186.4 56.1,186.8 54.7,187.1 53.4,187.4" fill="#fff" stroke="#000" stroke-width="3.0" stroke-linejoin="miter" stroke-miterlimit="10"/>
<rect x="291.15" y="3.0" width="320.05000000000007" height="455.8" fill="#fff" stroke="none"/>
<path d="M304.5,367.7 305.5,367.7 306.5,367.7 307.5,367.7 308.5,367.7 309.5,367.7 310.5,367.7 311.5,367.7 312.5,367.7 313.5,367.7 314.1,367.7 314.5,367.8 315.5,369.3 316.1,370.7 316.5,373.5 317.1,377.7 317.5,377.2 318.5,374.1 318.7,373.7 319.5,372.8 320.5,372.0 321.1,371.7 321.5,371.5 322.5,371.3 323.5,371.0 324.2,370.7 324.5,369.9 325.5,362.6 326.2,359.6 326.5,360.0 327.5,363.3 327.8,363.7 328.5,362.7 329.5,359.8 330.2,358.6 330.5,358.5 331.5,358.3 332.2,358.2 332.5,358.3 333.5,359.8 334.2,360.6 334.5,360.7 335.5,361.0 336.5,361.3 337.2,361.6 337.5,362.1 338.5,366.5 339.2,368.3 339.5,368.2 340.5,367.0 341.5,365.0 342.2,363.7 342.5,363.2 343.5,361.4 344.5,359.7 345.2,358.6 345.5,358.2 346.5,356.8 347.5,355.5 348.5,354.3 349.3,353.6 349.5,353.4 350.5,352.8 351.5,352.2 352.5,351.7 353.5,351.1 354.3,350.6 354.5,350.4 355.5,349.6 356.5,348.7 357.5,347.7 358.5,346.6 359.5,345.4 359.6,345.3 360.5,344.1 361.5,342.5 362.5,340.8 363.5,338.9 364.5,336.8 364.8,336.2 365.5,334.6 366.5,332.0 367.5,329.2 368.5,326.3 368.7,325.7 369.5,323.4 370.5,320.4 371.5,317.4 372.5,314.3 372.6,314.0 373.5,311.1 374.5,307.8 375.5,304.5 376.5,301.2 376.6,300.9 377.5,298.0 378.5,294.8 379.5,291.5 379.8,290.5 380.5,288.1 381.5,284.5 382.5,280.8 383.1,278.7 383.5,277.3 384.5,273.8 385.5,270.3 385.7,269.6 386.5,266.9 387.5,263.7 388.5,260.4 389.5,257.0 389.6,256.6 390.5,253.2 391.5,249.2 392.5,245.2 392.9,243.5 393.5,241.0 394.5,236.8 395.5,232.5 396.0,230.2 396.5,227.8 397.5,222.5 398.5,217.5 399.5,213.0 400.5,208.7 401.5,204.4 401.8,203.1 402.5,200.0 403.5,195.5 404.5,191.0 405.0,188.8 405.5,186.6 406.5,182.1 407.5,177.8 408.3,174.4 408.5,173.6 409.5,169.5 410.5,165.5 411.5,161.8 411.6,161.4 412.5,158.2 413.5,154.8 414.5,151.5 415.5,148.3 416.5,145.2 417.5,142.2 418.5,139.2 419.4,136.6 419.5,136.3 420.5,133.5 421.5,130.7 422.5,127.9 423.4,125.6 423.5,125.3 424.5,122.8 425.5,120.4 426.2,119.0 426.5,118.5 427.5,116.8 428.5,115.4 429.5,114.2 430.5,113.2 431.2,112.7 431.5,112.5 432.5,111.8 433.5,111.3 433.9,111.3 434.5,111.4 435.5,111.9 436.5,112.6 436.6,112.7 437.5,113.6 438.5,115.1 439.3,116.3 439.5,116.6 440.5,118.2 441.5,120.0 442.0,121.0 442.5,122.0 443.5,124.1 444.5,126.5 445.1,128.3 445.5,129.8 446.5,134.5 447.5,139.1 448.5,142.7 449.5,146.0 450.5,149.1 451.1,151.1 451.5,152.4 452.5,155.7 453.5,159.1 454.5,162.5 454.7,163.2 455.5,166.1 456.5,169.7 457.5,173.4 458.3,176.4 458.5,177.1 459.5,180.8 460.5,184.5 461.5,188.2 461.9,189.7 462.5,191.9 463.5,195.6 464.5,199.3 465.5,203.0 466.5,206.6 467.5,210.2 468.5,213.8 469.2,216.2 469.5,217.2 470.5,220.6 471.5,224.0 472.5,227.3 472.8,228.3 473.5,230.6 474.5,234.0 474.8,235.0 475.5,237.4 476.5,241.0 477.5,244.6 478.5,248.3 479.5,251.8 480.2,254.2 480.5,255.2 481.5,258.6 482.5,261.8 483.5,265.1 484.5,268.2 485.2,270.3 485.5,271.2 486.5,274.2 487.5,277.1 488.5,279.9 489.5,282.6 490.2,284.3 490.5,285.0 491.5,287.3 492.5,289.4 493.5,291.4 494.5,293.3 495.5,295.2 496.2,296.4 496.5,296.9 497.5,298.5 498.5,300.1 499.5,301.6 500.5,303.0 501.5,304.4 502.5,305.8 503.5,307.2 504.3,308.4 504.5,308.7 505.5,310.1 506.5,311.5 507.5,312.9 508.5,314.3 509.5,315.8 510.5,317.3 511.5,319.0 512.3,320.5 512.5,320.9 513.5,323.5 514.5,326.5 515.5,329.1 516.3,330.5 516.5,330.7 517.5,331.7 518.5,332.5 519.5,333.2 520.5,333.8 521.5,334.4 522.3,334.9 522.5,335.0 523.5,335.6 524.5,336.2 525.5,336.8 526.5,337.3 527.5,337.8 528.5,338.4 529.5,339.0 530.4,339.6 530.5,339.7 531.5,340.3 532.5,341.1 533.5,341.8 534.5,342.7 535.4,343.6 535.5,343.7 536.5,345.3 537.5,347.4 538.5,349.6 539.5,351.7 540.5,353.1 541.4,353.6 541.5,353.6 542.5,353.1 543.5,352.1 544.5,350.9 545.5,349.9 546.4,349.6 546.5,349.6 547.5,350.1 548.5,351.2 549.5,352.5 550.4,353.6 550.5,353.7 551.5,355.0 552.5,356.6 553.5,358.1 554.5,359.2 555.5,359.6 556.5,359.5 557.5,359.1 558.5,358.7 559.5,358.1 560.5,357.5 561.5,357.1 562.5,356.7 563.5,356.6 564.5,356.9 565.5,357.6 566.5,358.7 567.5,360.0 568.5,361.4 569.5,362.8 570.5,364.1 571.5,365.1 572.5,365.7 573.5,366.1 574.5,366.4 575.5,366.6 576.5,366.7 577.5,366.5 578.5,366.1 579.5,365.5 580.5,365.0 581.5,364.5 582.5,364.3 582.6,364.3 583.5,364.4 584.5,364.8 585.5,365.4 586.5,366.2 587.5,366.9 588.5,367.6 588.6,367.7 589.5,368.4 590.5,369.5 591.5,370.5 592.5,371.3 593.5,371.7 593.6,371.7 594.5,371.5 595.5,370.9 596.5,370.0 597.5,369.0 598.5,368.1 599.5,367.4 600.5,367.1 600.6,367.1 601.5,367.3 602.5,367.9 603.5,368.8 604.5,369.8 605.5,370.8 606.5,371.6 606.7,371.7 607.5,372.1 608.5,372.6 609.5,373.1 610.5,373.4 611.3,373.7" fill="none" stroke="#484848" stroke-width="1.0" stroke-linejoin="round"/>
<path d="M304.5,371.1 305.5,369.3 306.5,367.6 307.1,366.7 307.5,366.1 308.5,364.6 309.5,363.3 310.5,362.1 311.1,361.6 311.5,361.3 312.5,360.6 313.5,359.9 314.5,359.3 315.5,358.9 316.5,358.6 317.1,358.6 317.5,358.6 318.5,358.6 319.5,358.6 320.5,358.6 321.5,358.6 322.1,358.6 322.5,358.6 323.5,359.0 324.5,359.7 325.5,360.3 326.2,360.6 326.5,360.7 327.5,361.0 328.5,361.3 329.5,361.6 330.2,361.6 330.5,361.6 331.5,361.1 332.5,360.3 333.5,359.3 334.5,358.2 335.2,357.6 335.5,357.4 336.5,356.5 337.5,355.6 338.5,354.8 339.5,353.9 340.5,353.1 341.2,352.6 341.5,352.4 342.5,351.6 343.5,350.9 344.5,350.3 345.5,349.7 346.5,349.2 347.5,348.9 348.5,348.6 349.5,348.4 350.5,348.2 351.5,347.9 352.5,347.6 353.1,347.3 353.5,347.1 354.5,346.1 355.5,344.9 356.5,343.4 357.0,342.7 357.5,341.9 358.5,340.1 359.5,338.0 360.5,335.8 360.9,334.9 361.5,333.6 362.5,331.3 363.5,328.9 364.5,326.4 364.8,325.7 365.5,324.0 366.5,321.5 367.5,319.0 368.5,316.4 369.4,314.0 369.5,313.7 370.5,311.0 371.5,308.1 372.5,305.1 373.5,302.1 373.9,300.9 374.5,299.1 375.5,295.9 376.5,292.7 377.5,289.3 377.9,287.9 378.5,285.7 379.5,281.9 380.5,277.8 381.5,273.5 381.8,272.2 382.5,269.0 383.5,264.1 384.5,259.1 385.0,256.6 385.5,254.2 386.5,249.3 387.5,244.4 387.7,243.5 388.5,239.7 389.5,235.0 390.4,231.2 390.5,230.8 391.5,227.3 392.5,224.2 393.5,221.2 394.5,217.9 394.6,217.5 395.5,214.0 396.5,209.8 397.5,205.6 397.8,204.4 398.5,201.6 399.5,197.7 400.5,193.8 401.1,191.4 401.5,189.8 402.5,185.9 403.5,181.9 404.4,178.3 404.5,177.9 405.5,173.8 406.5,169.7 407.5,165.7 407.6,165.3 408.5,161.9 409.5,158.3 410.5,154.9 410.9,153.5 411.5,151.5 412.5,148.3 413.5,145.3 414.2,143.1 414.5,142.2 415.5,139.0 416.5,135.9 417.5,132.9 418.1,131.3 418.5,130.3 419.5,127.9 420.5,125.7 420.8,125.0 421.5,123.4 422.5,121.2 423.1,119.9 423.5,119.1 424.5,117.0 425.5,114.9 426.2,113.6 426.5,113.1 427.5,111.3 428.5,109.7 429.4,108.2 429.5,108.0 430.5,106.4 431.5,104.7 432.5,103.1 433.0,102.3 433.5,101.6 434.5,100.1 435.5,98.7 436.5,97.4 436.6,97.3 437.5,96.2 438.5,95.1 439.5,94.0 440.2,93.3 440.5,93.0 441.5,91.9 442.5,90.9 442.9,90.6 443.5,90.1 444.5,89.5 445.5,88.8 445.7,88.7 446.5,88.1 447.5,87.3 448.5,86.5 449.3,86.0 449.5,85.9 450.5,85.3 451.5,84.8 452.5,84.3 452.9,84.2 453.5,84.0 454.5,83.7 455.5,83.5 456.5,83.3 456.9,83.3 457.5,83.4 458.5,83.8 459.5,84.3 460.1,84.7 460.5,85.0 461.5,85.9 462.5,87.0 462.8,87.4 463.5,88.4 464.5,90.0 465.1,91.0 465.5,91.7 466.5,93.7 467.3,95.5 467.5,96.0 468.5,98.4 469.1,100.0 469.5,101.3 470.5,104.9 470.9,106.4 471.5,108.6 472.5,112.4 472.8,113.6 473.5,116.6 474.3,120.0 474.5,120.8 475.5,124.6 475.6,125.0 476.5,128.7 477.5,133.1 478.5,137.7 478.8,139.1 479.5,142.6 480.5,147.8 481.5,153.2 481.8,154.8 482.5,158.6 483.5,164.2 484.5,169.9 484.8,171.6 485.5,175.7 486.5,181.7 487.5,187.8 487.8,189.7 488.5,194.1 489.5,200.6 490.5,207.1 490.8,209.0 491.5,213.4 492.5,219.5 493.3,224.6 493.5,225.9 494.5,232.9 494.8,235.0 495.5,240.1 496.5,247.5 497.2,252.2 497.5,254.0 498.5,259.9 499.5,265.4 500.5,270.5 501.5,275.2 502.2,278.3 502.5,279.6 503.5,283.7 504.5,287.5 505.5,291.1 506.5,294.5 507.5,297.8 508.3,300.4 508.5,301.0 509.5,304.2 510.5,307.2 511.5,310.1 512.5,312.7 513.3,314.5 513.5,314.9 514.5,316.9 515.5,318.8 516.5,320.5 517.5,322.0 518.5,323.5 519.3,324.5 519.5,324.7 520.5,325.9 521.5,327.0 522.5,327.9 523.5,328.9 524.5,329.8 525.5,330.7 526.3,331.5 526.5,331.7 527.5,332.7 528.5,333.8 529.5,334.9 530.5,335.9 531.5,337.0 532.5,338.0 533.5,338.9 534.4,339.6 534.5,339.7 535.5,340.4 536.5,341.0 537.5,341.6 538.5,342.1 539.5,342.7 540.5,343.3 541.5,343.9 542.4,344.6 542.5,344.7 543.5,345.6 544.5,346.8 545.5,348.0 546.5,349.1 547.5,350.2 548.4,351.0 548.5,351.1 549.5,351.8 550.5,352.5 551.5,353.1 552.5,353.6 553.5,354.2 554.5,354.7 555.5,355.1 556.5,355.6 557.5,356.0 558.5,356.4 559.5,356.8 560.5,357.1 561.5,357.5 562.5,357.8 563.5,358.2 564.5,358.6 565.5,359.0 566.5,359.5 567.5,359.9 568.5,360.4 569.5,360.9 570.5,361.3 571.5,361.8 572.5,362.2 573.5,362.6 574.5,362.9 575.5,363.3 576.5,363.6 577.5,364.0 578.5,364.3 579.5,364.7 580.5,365.1 580.6,365.1 581.5,365.5 582.5,365.9 583.5,366.4 584.5,366.8 585.5,367.3 586.5,367.8 587.5,368.2 588.5,368.7 588.6,368.7 589.5,369.1 590.5,369.5 591.5,369.9 592.5,370.3 593.5,370.7 594.5,371.1 595.5,371.4 596.5,371.7 596.6,371.7 597.5,371.9 598.5,372.2 599.5,372.4 600.5,372.6 601.5,372.8 602.5,372.9 603.5,373.1 604.5,373.1 604.7,373.1 605.5,373.1 606.5,373.1 607.5,373.1 608.5,373.1 609.5,373.1 610.5,373.1 611.3,373.1" fill="none" stroke="#ff5050" stroke-width="1.0" stroke-linejoin="round"/>
<path d="M304.5,360.2 305.5,359.4 306.0,358.5 306.5,354.8 307.1,348.6 307.5,345.6 308.5,340.6 309.5,348.6 310.5,351.3 311.5,352.9 312.1,353.6 312.5,354.1 313.5,355.3 314.5,356.0 315.1,356.2 315.5,356.2 316.5,356.0 317.5,355.8 318.5,355.6 319.1,355.6 319.5,356.0 320.5,358.8 321.1,360.6 321.5,361.9 322.5,364.7 322.6,364.7 323.5,363.3 324.5,360.1 325.2,358.6 325.5,358.3 326.5,357.3 327.5,356.6 328.2,356.2 328.5,356.1 329.5,355.7 330.5,355.4 331.5,355.2 332.5,355.0 333.5,354.8 334.5,354.5 335.2,354.2 335.5,354.1 336.5,353.5 337.5,352.7 338.5,351.8 339.5,350.9 340.5,349.9 341.3,349.2 341.5,349.0 342.5,348.1 343.5,347.1 344.5,346.1 345.5,345.1 346.5,344.1 347.5,343.0 347.8,342.7 348.5,342.0 349.5,340.9 350.5,339.8 351.5,338.7 352.5,337.5 353.5,336.3 354.5,335.1 355.5,333.9 355.7,333.6 356.5,332.6 357.5,331.2 358.5,329.9 359.5,328.4 360.5,326.9 361.5,325.3 362.5,323.6 362.8,323.1 363.5,321.8 364.5,319.8 365.5,317.6 366.5,315.3 367.5,312.9 368.1,311.4 368.5,310.4 369.5,307.6 370.5,304.6 371.5,301.6 372.5,298.6 372.6,298.3 373.5,295.7 374.5,292.9 375.5,290.0 376.5,286.9 376.6,286.6 377.5,283.6 378.5,280.0 379.5,276.2 380.5,272.2 381.5,267.9 382.5,263.4 383.5,258.8 383.7,257.9 384.5,254.3 385.5,249.9 386.5,245.6 387.0,243.5 387.5,241.5 388.5,237.8 389.5,234.1 390.5,230.2 391.5,225.8 392.5,221.2 393.5,216.3 394.5,211.5 394.6,211.0 395.5,206.6 396.5,201.6 397.5,196.7 397.8,195.3 398.5,192.1 399.5,187.8 400.5,183.5 401.1,180.9 401.5,179.2 402.5,174.8 403.5,170.4 404.4,166.6 404.5,166.2 405.5,162.0 406.5,157.9 407.5,153.9 407.6,153.5 408.5,149.9 409.5,145.9 410.5,142.0 411.5,138.3 411.6,137.9 412.5,134.6 413.5,131.0 414.5,127.7 415.5,124.7 415.7,124.2 416.5,122.4 417.5,120.5 418.5,118.3 418.6,118.1 419.5,115.6 420.5,112.5 421.3,110.0 421.5,109.4 422.5,106.4 423.5,103.3 424.0,101.8 424.5,100.3 425.5,97.3 426.5,94.3 426.7,93.7 427.5,91.1 428.5,87.8 428.9,86.5 429.5,84.6 430.5,81.4 431.2,79.3 431.5,78.4 432.5,75.5 433.5,72.9 434.5,70.8 435.5,69.2 435.7,68.9 436.5,67.9 437.5,66.9 438.4,66.2 438.5,66.1 439.5,65.5 440.5,65.1 441.1,65.0 441.5,65.0 442.5,65.2 443.5,65.4 444.5,65.7 444.7,65.7 445.5,65.9 446.5,66.2 447.5,66.5 448.4,66.8 448.5,66.8 449.5,67.6 450.5,68.4 451.1,68.6 451.5,68.6 452.5,68.5 453.5,68.4 453.8,68.4 454.5,68.6 455.5,69.3 456.5,70.2 457.5,71.6 458.5,73.4 458.7,73.8 459.5,75.5 460.5,78.0 461.0,79.3 461.5,80.6 462.5,83.2 463.3,85.6 463.5,86.3 464.5,90.2 465.1,92.8 465.5,94.5 466.5,99.0 466.9,100.9 467.5,103.9 468.5,109.1 468.7,110.0 469.5,113.4 470.5,117.1 471.5,120.9 472.0,123.0 472.5,125.2 473.5,129.7 474.5,134.4 475.5,139.2 476.2,142.7 476.5,144.2 477.5,149.4 478.5,154.7 479.4,159.6 479.5,160.1 480.5,165.6 481.5,171.2 482.4,176.4 482.5,177.0 483.5,182.9 484.5,189.0 485.4,194.5 485.5,195.1 486.5,201.1 487.5,207.2 488.4,212.6 488.5,213.2 489.5,219.1 490.5,225.1 490.8,227.0 491.5,231.6 492.0,235.0 492.5,238.6 493.5,245.9 494.2,250.2 494.5,251.8 495.5,256.5 496.5,260.7 497.5,264.5 498.5,268.1 499.5,271.7 500.2,274.3 500.5,275.4 501.5,279.2 502.5,283.0 503.5,286.7 504.5,290.2 505.5,293.7 506.3,296.4 506.5,297.1 507.5,300.3 508.5,303.6 509.5,306.7 510.5,309.7 511.5,312.5 512.3,314.5 512.5,315.0 513.5,317.3 514.5,319.6 515.5,321.7 516.5,323.7 517.5,325.6 518.5,327.4 519.5,329.2 520.3,330.5 520.5,330.8 521.5,332.4 522.5,333.9 523.5,335.3 524.5,336.7 525.5,338.1 526.5,339.3 527.5,340.5 528.4,341.6 528.5,341.7 529.5,342.8 530.5,343.9 531.5,344.8 532.5,345.8 533.5,346.7 534.5,347.7 535.5,348.7 536.4,349.6 536.5,349.7 537.5,350.8 538.5,351.9 539.5,353.1 540.5,354.3 541.5,355.4 542.5,356.6 543.5,357.7 544.4,358.6 544.5,358.7 545.5,359.7 546.5,360.6 547.5,361.6 548.5,362.5 549.5,363.3 550.5,364.2 551.5,365.0 552.4,365.7 552.5,365.8 553.5,366.5 554.5,367.2 555.5,367.9 556.5,368.5 557.5,369.2 558.5,369.8 559.5,370.4 560.5,371.1 561.5,371.8 562.5,372.4 563.5,373.1 564.5,373.8 565.5,374.5 566.5,375.2 567.5,375.8 568.5,376.5 569.5,377.1 570.5,377.7 571.5,378.3 572.5,379.0 573.5,379.6 574.5,380.3 575.5,381.0 576.5,381.6 577.5,382.1 578.5,382.5 579.5,382.9 580.5,383.1 580.6,383.1 581.5,383.2 582.5,383.3 583.5,383.3 584.5,383.4 585.5,383.4 586.5,383.5 587.5,383.6 588.5,383.7 588.6,383.7 589.5,383.9 590.5,384.2 591.5,384.7 592.5,385.2 593.5,385.7 594.5,386.2 595.5,386.7 596.5,387.1 596.6,387.1 597.5,387.4 598.5,387.8 599.5,388.1 600.5,388.4 601.5,388.7 602.5,389.0 603.5,389.1 604.5,389.2 604.7,389.2 605.5,389.2 606.5,389.2 607.5,389.1 608.5,389.0 609.5,388.8 610.5,388.6 611.3,388.4" fill="none" stroke="#3c9a3c" stroke-width="1.0" stroke-linejoin="round"/>
<path d="M304.5,367.7 305.5,368.1 306.5,368.4 307.5,368.7 308.5,369.0 309.5,369.3 310.5,369.6 311.1,369.7 311.5,369.8 312.5,370.0 313.5,370.1 314.5,370.3 315.5,370.4 316.5,370.6 317.1,370.7 317.5,370.8 318.5,371.1 319.5,371.5 320.5,371.9 321.5,372.3 322.5,372.6 323.2,372.7 323.5,372.7 324.5,372.8 325.5,372.9 326.5,373.0 327.5,373.0 328.5,373.1 329.5,373.1 330.2,373.1 330.5,373.1 331.5,372.9 332.5,372.5 333.5,372.0 334.5,371.4 335.5,370.8 336.5,370.1 337.2,369.7 337.5,369.5 338.5,368.9 339.5,368.2 340.5,367.5 341.5,366.8 342.5,366.0 343.5,365.2 344.5,364.3 345.2,363.7 345.5,363.4 346.5,362.5 347.5,361.4 348.5,360.3 349.5,359.2 350.5,358.0 351.5,356.8 352.5,355.6 353.3,354.6 353.5,354.4 354.5,353.1 355.5,351.9 356.5,350.6 357.0,350.0 357.5,349.4 358.5,348.1 359.5,346.7 359.6,346.6 360.5,345.2 361.5,343.6 362.5,341.9 363.5,340.1 364.5,338.2 365.5,336.2 366.5,334.2 367.5,332.0 368.5,329.7 369.5,327.4 370.5,324.9 370.7,324.4 371.5,322.3 372.5,319.5 373.5,316.6 374.5,313.5 375.2,311.4 375.5,310.5 376.5,307.4 377.5,304.2 378.5,300.8 379.2,298.3 379.5,297.2 380.5,293.3 381.5,289.1 382.4,285.3 382.5,284.9 383.5,280.6 384.5,276.2 385.5,271.8 385.7,270.9 386.5,267.5 387.5,263.2 388.5,258.9 389.0,256.6 389.5,254.2 390.5,249.1 391.5,244.0 391.6,243.5 392.5,239.2 393.5,234.5 394.4,230.2 394.5,229.7 395.5,224.5 396.5,219.1 397.5,213.8 397.8,212.3 398.5,208.9 399.5,204.1 400.5,199.4 401.1,196.6 401.5,194.7 402.5,189.9 403.5,185.1 404.4,180.9 404.5,180.4 405.5,175.9 406.5,171.5 407.5,167.0 407.6,166.6 408.5,162.6 409.5,158.3 410.5,153.9 410.9,152.2 411.5,149.6 412.5,145.2 413.5,140.9 414.2,137.9 414.5,136.6 415.5,132.4 416.5,128.3 417.5,124.2 418.5,120.3 419.5,116.3 420.5,111.5 421.5,106.5 421.7,105.5 422.5,101.7 423.5,97.0 424.0,94.6 424.5,92.1 425.5,87.1 426.2,83.8 426.5,82.5 427.5,78.4 428.5,74.7 429.5,71.2 430.5,67.9 431.2,65.7 431.5,64.8 432.5,62.0 433.5,59.4 433.9,58.5 434.5,57.3 435.5,55.3 436.5,53.6 437.5,52.2 438.5,51.0 439.5,49.9 440.5,49.0 441.1,48.6 441.5,48.4 442.5,47.9 443.5,47.5 444.5,47.1 445.5,47.0 445.7,47.0 446.5,47.1 447.5,47.4 448.5,47.9 449.3,48.4 449.5,48.5 450.5,49.3 451.5,50.4 452.5,51.6 452.9,52.2 453.5,53.1 454.5,55.1 455.5,57.3 456.0,58.5 456.5,59.7 457.5,62.3 458.5,65.1 458.7,65.7 459.5,68.3 460.5,71.9 461.0,73.8 461.5,75.8 462.5,80.1 463.3,83.8 463.5,84.7 464.5,89.6 465.1,92.8 465.5,95.1 466.5,101.2 466.9,103.7 467.5,107.3 468.5,113.3 468.7,114.5 469.5,118.9 470.5,124.2 471.0,127.0 471.5,130.1 472.5,136.7 473.4,142.7 473.5,143.4 474.5,149.8 475.5,156.4 475.8,158.4 476.5,163.2 477.5,170.2 478.2,175.2 478.5,177.4 479.5,184.9 480.5,192.5 480.6,193.3 481.5,200.0 482.5,207.6 483.0,211.4 483.5,215.4 484.5,223.4 484.8,225.8 485.5,231.3 486.0,235.0 486.5,238.2 487.5,244.0 488.2,248.2 488.5,250.1 489.5,256.7 490.5,263.4 491.5,270.0 492.2,274.3 492.5,276.1 493.5,281.9 494.5,287.5 495.5,292.8 496.2,296.4 496.5,297.9 497.5,302.8 498.5,307.5 499.5,311.8 500.2,314.5 500.5,315.6 501.5,319.0 502.5,322.3 503.5,325.3 504.5,328.1 505.5,330.6 506.3,332.5 506.5,332.9 507.5,335.0 508.5,337.0 509.5,338.8 510.5,340.5 511.5,342.1 512.5,343.7 513.5,345.3 514.3,346.6 514.5,346.9 515.5,348.5 516.5,350.1 517.5,351.6 518.5,353.1 519.5,354.6 520.5,356.1 521.5,357.5 522.3,358.6 522.5,358.9 523.5,360.3 524.5,361.7 525.5,363.1 526.5,364.5 527.5,365.7 528.5,366.8 529.4,367.7 529.5,367.8 530.5,368.6 531.5,369.4 532.5,370.0 533.5,370.7 534.5,371.3 535.5,371.8 536.5,372.4 537.5,373.0 538.5,373.5 539.5,374.1 540.4,374.7 540.5,374.8 541.5,375.4 542.5,376.1 543.5,376.8 544.5,377.5 545.5,378.2 546.5,378.9 547.5,379.6 548.5,380.2 549.4,380.7 549.5,380.8 550.5,381.4 551.5,382.0 552.5,382.5 553.5,382.9 554.5,383.1 555.5,383.0 556.5,382.9 557.5,382.7 558.5,382.5 559.5,382.4 560.5,382.3 561.5,382.4 562.5,382.6 563.5,382.8 564.5,383.2 565.5,383.6 566.5,384.0 567.5,384.5 568.5,384.9 569.5,385.3 570.5,385.7 571.5,386.0 572.5,386.4 573.5,386.7 574.5,387.0 575.5,387.4 576.5,387.7 577.5,388.0 578.5,388.3 579.5,388.5 580.5,388.8 580.6,388.8 581.5,389.0 582.5,389.1 583.5,389.3 584.5,389.4 585.5,389.6 586.5,389.7 587.5,389.8 588.5,390.0 589.5,390.2 590.5,390.4 590.6,390.4 591.5,390.7 592.5,391.0 593.5,391.4 594.5,391.9 595.5,392.4 596.5,393.0 597.5,393.5 598.5,394.0 599.5,394.4 600.5,394.8 600.6,394.8 601.5,395.1 602.5,395.5 603.5,395.8 604.5,396.1 605.5,396.3 606.5,396.4 606.7,396.4 607.5,396.4 608.5,396.4 609.5,396.4 610.5,396.4 611.3,396.4" fill="none" stroke="#5a5aff" stroke-width="1.0" stroke-linejoin="round"/>
<path d="M426.2,28 L440.7,45.8" fill="none" stroke="#5a5aff" stroke-width="1.0"/>
<path d="M425.1,62.4 L438.4,65.6" fill="none" stroke="#3c9a3c" stroke-width="1.0"/>
<path d="M413,89.5 L446.6,89.5" fill="none" stroke="#ff5050" stroke-width="1.0"/>
<path d="M450.5,133.3 L480.4,110.9" fill="none" stroke="#484848" stroke-width="1.0"/>
<g fill="none" stroke="#000" stroke-width="2.0">
<rect x="291.15" y="3.0" width="320.05000000000007" height="455.8"/>
<path d="M291.1,458.8 V466.6"/>
<path d="M355.2,458.8 V466.6"/>
<path d="M419.2,458.8 V466.6"/>
<path d="M483.2,458.8 V466.6"/>
<path d="M547.2,458.8 V466.6"/>
<path d="M611.2,458.8 V466.6"/>
</g>
<text transform="translate(77.3,947.2) scale(0.957,1)" font-size="35.5" fill="#000" stroke="#000" stroke-width="0.43" text-anchor="middle">0</text>
<text transform="translate(207.2,947.2) scale(0.957,1)" font-size="35.5" fill="#000" stroke="#000" stroke-width="0.43" text-anchor="middle">150</text>
<text transform="translate(337.1,947.2) scale(0.957,1)" font-size="35.5" fill="#000" stroke="#000" stroke-width="0.43" text-anchor="middle">300</text>
<text transform="translate(467.0,947.2) scale(0.957,1)" font-size="35.5" fill="#000" stroke="#000" stroke-width="0.43" text-anchor="middle">450</text>
<text transform="translate(596.8,947.2) scale(0.957,1)" font-size="35.5" fill="#000" stroke="#000" stroke-width="0.43" text-anchor="middle">600</text>
<text transform="translate(726.7,947.2) scale(0.957,1)" font-size="35.5" fill="#000" stroke="#000" stroke-width="0.43" text-anchor="middle">750</text>
<text transform="translate(856.6,947.2) scale(0.957,1)" font-size="35.5" fill="#000" stroke="#000" stroke-width="0.43" text-anchor="middle">900</text>
<text transform="translate(986.5,947.2) scale(0.957,1)" font-size="35.5" fill="#000" stroke="#000" stroke-width="0.43" text-anchor="middle">1050</text>
<text transform="translate(399.9,982.9) scale(0.9608,1)" font-size="35.8" fill="#000" stroke="#000" stroke-width="0.43" text-anchor="start">Temperature (ºC)</text>
<text transform="translate(44.6,611.4) rotate(-90) scale(0.991,1)" font-size="34.8" fill="#000" stroke="#000" stroke-width="0.42" text-anchor="middle">TDC signal (a.u.)</text>
<text transform="translate(405.6,648.3) scale(0.99,1)" font-size="29.0" fill="#008000" stroke="#008000" stroke-width="0.35" text-anchor="start">Rh350Ce250</text>
<text transform="translate(378.4,724.9) scale(0.99,1)" font-size="29.0" fill="#0000ff" stroke="#0000ff" stroke-width="0.35" text-anchor="start">Rh350Ce25</text>
<text transform="translate(371.2,784.3) scale(0.99,1)" font-size="29.0" fill="#ff0000" stroke="#ff0000" stroke-width="0.35" text-anchor="start">Rh250Ce25</text>
<text transform="translate(361.8,843.6) scale(0.99,1)" font-size="29.0" fill="#000" stroke="#000" stroke-width="0.35" text-anchor="start">Rh25Ce25</text>
<text transform="translate(305.7,31.6) scale(0.946,1)" font-size="22.5" fill="#0000ff" stroke="#0000ff" stroke-width="0.27" text-anchor="start">Rh350Ce25</text>
<text transform="translate(295.7,63.7) scale(0.946,1)" font-size="22.5" fill="#008000" stroke="#008000" stroke-width="0.27" text-anchor="start">Rh350Ce250</text>
<text transform="translate(295.0,99.7) scale(0.946,1)" font-size="22.5" fill="#ff0000" stroke="#ff0000" stroke-width="0.27" text-anchor="start">Rh250Ce25</text>
<text transform="translate(481.75,119.8) scale(0.9555,1)" font-size="28.4" fill="#000" stroke="#000" stroke-width="0.34" text-anchor="start">Rh25Ce25</text>
<text transform="translate(291.2,499.9) scale(1.0035,1)" font-size="26.5" fill="#000" stroke="#000" stroke-width="0.32" text-anchor="middle">25</text>
<text transform="translate(355.3,499.9) scale(1.0035,1)" font-size="26.5" fill="#000" stroke="#000" stroke-width="0.32" text-anchor="middle">50</text>
<text transform="translate(419.3,499.9) scale(1.0035,1)" font-size="26.5" fill="#000" stroke="#000" stroke-width="0.32" text-anchor="middle">75</text>
<text transform="translate(483.3,499.9) scale(1.0035,1)" font-size="26.5" fill="#000" stroke="#000" stroke-width="0.32" text-anchor="middle">100</text>
<text transform="translate(547.3,499.9) scale(1.0035,1)" font-size="26.5" fill="#000" stroke="#000" stroke-width="0.32" text-anchor="middle">125</text>
<text transform="translate(611.3,499.9) scale(1.0035,1)" font-size="26.5" fill="#000" stroke="#000" stroke-width="0.32" text-anchor="middle">150</text>
<text transform="translate(347.1,532.2) scale(1.0161,1)" font-size="27.0" fill="#000" stroke="#000" stroke-width="0.32" text-anchor="start">Temperature (ºC)</text>
</svg></body></html>
